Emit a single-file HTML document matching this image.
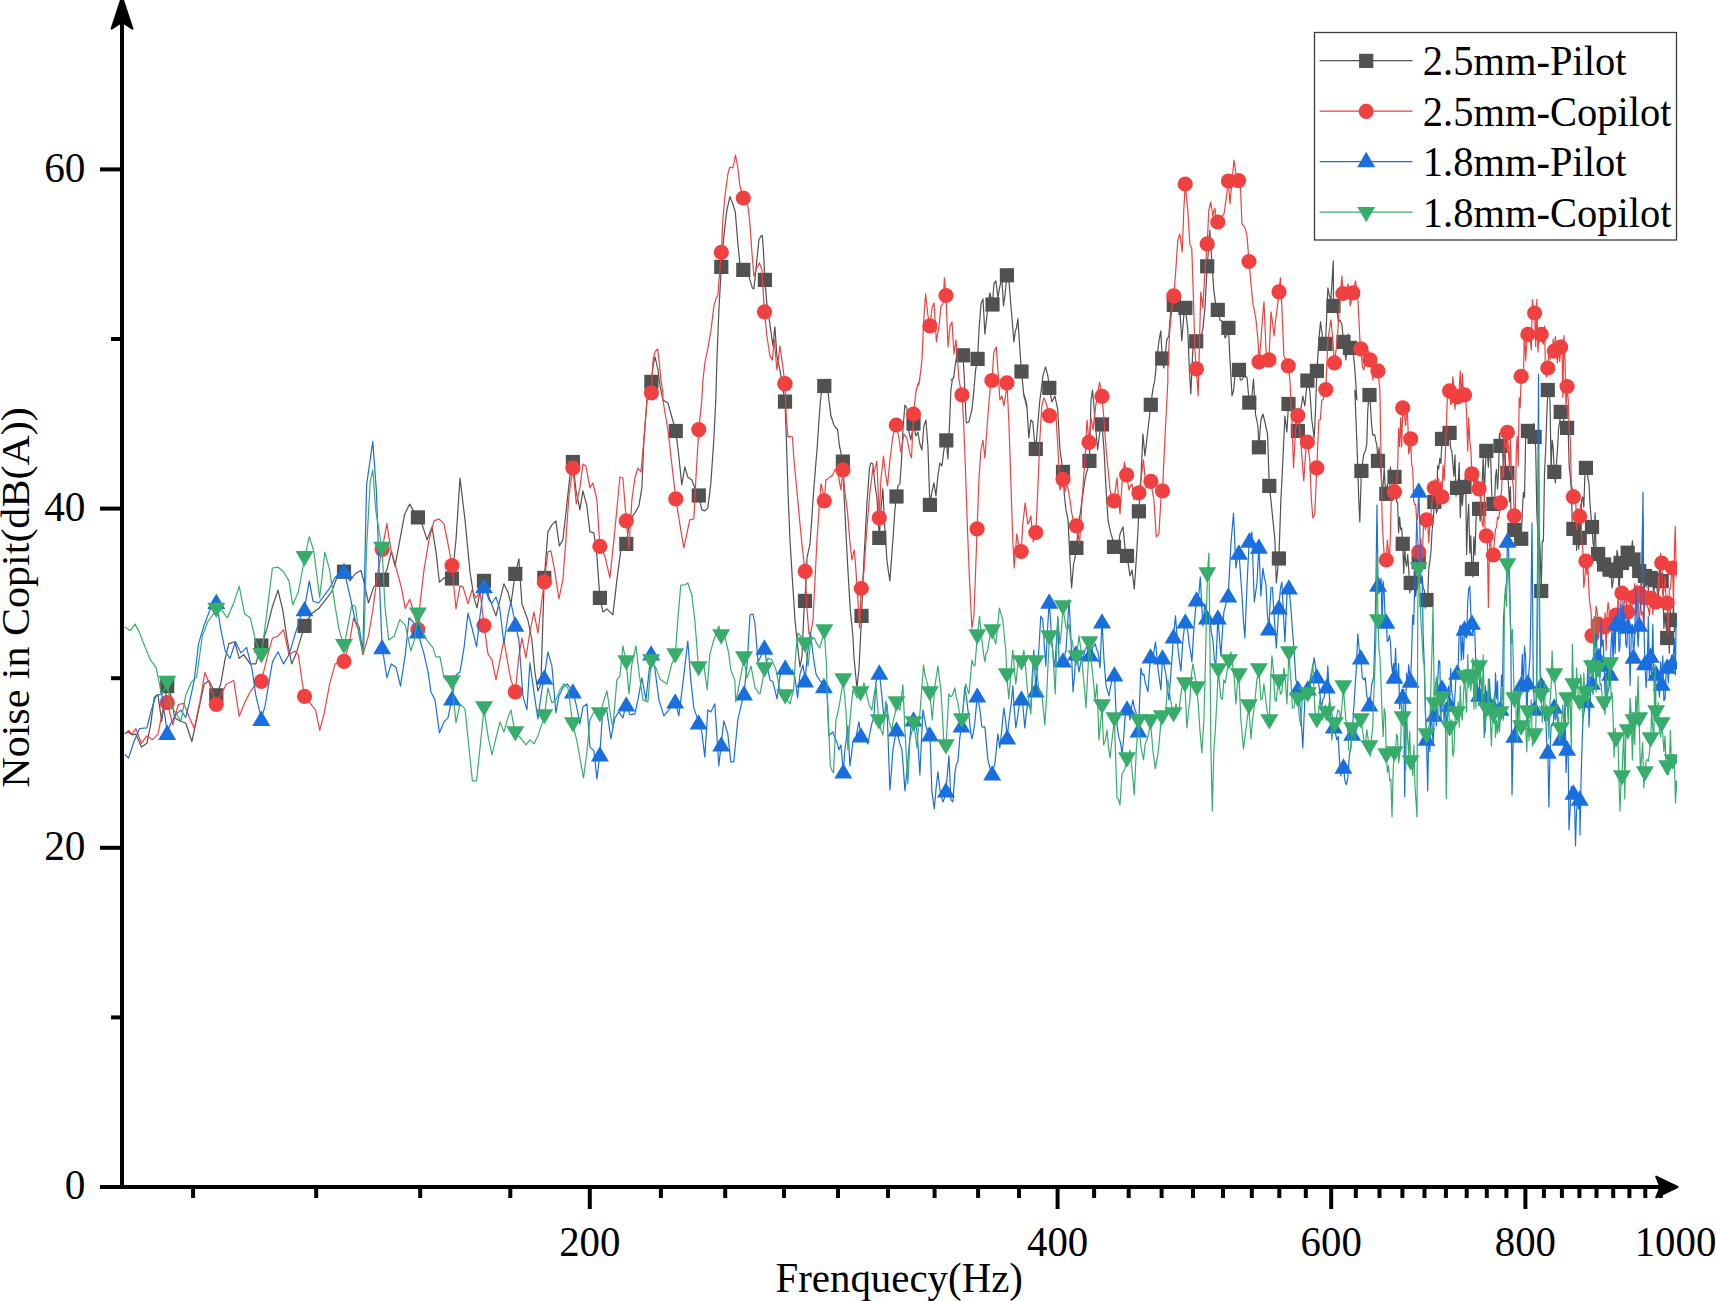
<!DOCTYPE html>
<html><head><meta charset="utf-8"><title>Noise in Cockpit</title>
<style>html,body{margin:0;padding:0;background:#fff}body{width:1716px;height:1301px;overflow:hidden}</style></head>
<body>
<svg width="1716" height="1301" viewBox="0 0 1716 1301" style="display:block;font-family:'Liberation Serif',serif">
<rect width="1716" height="1301" fill="#fff"/>
<defs><clipPath id="cp"><rect x="122" y="0" width="1555" height="1187"/></clipPath></defs>
<g clip-path="url(#cp)"><path d="M124.8 733.3 128.5 732.2 132.1 734.8 135.8 734.1 141.4 747.0 146.9 743.3 150.6 724.8 154.3 697.2 158.0 695.3 161.7 721.2 167.2 686.1 170.9 695.3 174.6 717.5 180.1 721.2 185.7 723.0 191.9 741.5 198.6 710.1 204.1 684.2 208.9 680.5 216.3 695.3 220.7 684.2 225.2 658.4 228.9 643.6 234.8 641.8 239.2 658.4 243.6 654.7 250.3 663.9 255.8 663.9 261.3 645.5 266.9 628.9 272.4 606.7 278.0 590.1 282.8 610.4 287.2 639.9 291.6 663.9 296.4 652.9 304.5 625.9 311.2 614.1 318.6 608.6 325.9 599.3 331.5 592.0 337.0 577.2 344.0 571.7 349.9 580.9 355.5 573.5 361.0 570.5 364.7 584.6 368.4 603.0 373.9 586.4 382.1 579.8 386.9 569.8 391.3 551.3 395.0 566.1 399.8 540.3 404.6 514.4 409.7 504.1 413.4 510.7 417.9 517.4 422.0 523.9 427.0 539.9 432.0 526.9 436.0 551.9 439.4 582.3 444.0 577.9 452.0 578.5 456.0 539.9 460.0 478.0 465.0 519.9 470.0 571.9 474.0 597.9 477.0 607.9 480.0 591.9 484.0 580.9 489.0 596.9 496.0 615.9 500.0 599.9 503.9 583.9 507.9 591.9 510.9 603.9 515.3 573.9 518.9 558.9 521.9 604.0 527.9 620.0 531.9 640.0 534.9 671.9 537.9 690.9 540.9 683.9 542.9 620.0 544.3 577.9 547.9 531.9 551.9 524.9 555.9 520.9 559.3 545.9 562.9 539.9 566.9 503.9 569.9 476.0 572.9 462.0 575.9 489.9 579.9 509.9 582.9 490.9 586.9 505.9 589.9 531.9 593.9 532.9 596.9 555.9 599.9 597.9 602.9 611.9 606.9 608.9 612.9 614.9 616.9 579.9 620.9 549.9 626.3 543.9 629.9 519.9 634.9 512.9 638.9 505.9 641.9 487.9 643.9 440.0 647.0 400.0 651.4 381.9 653.0 365.9 655.0 356.9 658.0 369.9 660.0 385.9 663.0 400.0 667.9 403.0 675.8 431.0 678.8 456.0 681.8 484.9 684.8 467.0 687.8 477.0 691.8 480.0 694.8 487.9 698.8 495.5 700.3 502.7 701.8 509.9 703.3 510.4 704.8 510.9 706.3 509.4 707.8 507.9 709.3 495.9 710.8 483.9 712.3 462.0 713.8 440.0 715.8 400.0 716.9 359.9 718.9 309.9 721.3 266.9 723.9 235.9 725.4 222.9 726.9 210.0 728.4 203.3 729.9 196.6 731.4 200.3 732.9 204.0 735.3 212.0 737.9 243.9 739.9 263.9 741.6 267.0 743.3 269.9 745.1 268.9 746.9 267.9 748.4 274.0 749.9 279.9 752.3 287.9 753.9 288.9 755.9 269.9 757.4 254.9 758.9 239.9 760.9 235.9 762.3 235.5 763.5 251.9 764.9 279.9 766.9 303.9 768.4 313.8 769.9 323.9 771.4 334.9 772.9 345.9 774.9 326.9 776.9 355.9 778.4 362.6 779.9 369.9 781.6 380.4 783.3 391.2 785.0 401.6 786.4 440.0 788.0 491.9 790.0 539.9 792.4 579.9 795.0 619.9 796.5 634.9 798.0 650.0 800.0 667.0 802.0 656.0 804.0 610.0 805.0 600.9 807.0 557.9 808.5 550.8 810.0 543.9 811.5 522.6 813.0 499.9 814.3 483.3 815.6 466.4 817.0 450.0 818.5 428.0 820.0 406.0 822.0 386.0 824.3 386.0 826.1 388.8 827.9 392.0 829.4 403.8 830.9 416.0 832.4 420.3 833.9 425.0 835.7 427.7 837.5 429.0 839.5 446.0 841.2 453.8 842.9 461.6 843.9 491.9 845.9 531.9 847.9 569.9 850.3 609.9 852.9 635.8 853.9 656.0 855.4 672.0 856.9 687.9 858.9 670.0 860.9 630.0 861.5 615.9 863.9 559.9 865.4 532.2 866.9 503.9 869.5 467.9 870.9 463.0 872.9 463.9 874.9 483.9 876.9 497.9 879.3 537.9 880.9 509.9 882.9 488.9 884.3 519.9 886.9 559.9 888.4 571.6 889.9 580.9 891.4 560.3 892.9 539.9 894.9 509.9 896.5 496.5 897.9 485.9 899.9 483.9 901.5 460.0 902.9 430.0 904.9 405.0 906.9 408.0 908.9 432.0 910.9 440.0 913.5 423.6 915.9 436.0 917.9 432.0 919.9 444.0 921.9 450.0 923.9 426.0 925.9 420.0 927.9 446.0 929.9 504.9 931.9 491.9 933.9 482.9 935.9 495.9 937.9 475.9 939.9 463.0 941.9 465.9 943.9 450.0 946.3 440.4 947.9 459.0 948.9 440.0 950.9 390.0 952.3 380.0 951.0 379.9 953.6 377.9 956.0 359.9 957.5 356.3 959.0 353.9 960.3 356.6 961.6 353.5 963.0 355.3 964.4 379.9 965.6 410.0 966.3 423.0 968.9 422.0 970.4 415.6 971.9 410.0 973.9 390.0 973.0 399.9 975.6 369.9 977.6 358.9 979.0 329.9 981.0 303.9 983.0 298.9 984.9 333.9 986.4 320.6 987.9 305.9 989.9 292.9 992.5 304.5 993.9 283.9 995.9 280.9 997.9 297.9 999.9 285.9 1001.9 279.9 1003.5 305.9 1005.2 293.1 1006.9 275.3 1008.9 279.9 1010.9 305.9 1012.4 322.8 1013.9 341.9 1015.3 331.4 1016.6 327.3 1017.9 318.9 1019.9 349.9 1021.5 371.5 1023.9 395.9 1025.4 401.2 1026.9 407.8 1023.8 394.0 1025.3 399.0 1026.8 405.0 1028.8 438.0 1030.8 420.0 1032.8 422.0 1034.2 438.0 1035.8 449.0 1037.8 424.0 1039.8 401.0 1039.9 399.9 1041.4 388.4 1042.9 375.9 1045.5 366.9 1047.9 375.9 1049.3 387.9 1051.9 401.8 1053.4 399.1 1054.9 395.9 1056.4 403.3 1057.9 410.0 1057.8 412.0 1060.0 449.9 1061.5 460.3 1063.0 471.9 1064.4 495.9 1066.0 509.9 1068.0 519.9 1070.0 559.9 1071.6 587.9 1073.6 563.9 1075.0 557.7 1076.4 547.9 1079.0 519.9 1080.5 512.1 1082.0 499.9 1083.5 490.0 1085.0 479.9 1086.4 472.9 1087.9 468.4 1089.4 460.9 1091.0 400.0 1092.6 390.0 1095.0 420.0 1097.6 449.9 1100.0 430.0 1102.0 424.4 1104.0 449.9 1106.0 487.9 1108.0 519.9 1109.5 527.7 1111.0 533.9 1112.5 538.7 1114.0 546.9 1115.5 548.6 1117.0 551.9 1118.5 544.6 1120.0 533.9 1121.5 530.2 1123.0 526.9 1125.0 547.9 1127.0 555.9 1128.5 565.3 1130.0 575.9 1132.0 569.9 1134.3 588.9 1136.9 549.9 1138.9 511.3 1140.9 479.9 1142.9 434.0 1144.9 455.9 1146.4 443.3 1147.9 430.0 1149.4 417.3 1150.8 404.8 1152.8 389.9 1154.8 379.9 1156.8 359.9 1158.8 341.9 1160.8 330.9 1162.2 358.5 1163.8 367.9 1165.3 353.9 1166.8 339.9 1168.8 335.9 1170.8 309.9 1172.3 303.7 1173.8 304.9 1175.3 309.8 1176.8 307.9 1178.3 309.3 1179.8 309.9 1181.8 340.9 1183.8 315.9 1185.4 307.9 1187.8 329.9 1189.4 369.9 1190.8 393.9 1192.8 349.9 1194.5 343.8 1196.2 341.3 1198.0 342.6 1199.8 339.9 1201.3 335.5 1202.8 329.9 1204.8 309.9 1207.2 266.3 1208.8 245.9 1209.8 230.0 1211.8 261.9 1213.8 289.9 1215.8 305.9 1217.8 309.9 1220.0 319.9 1221.5 320.9 1223.0 321.9 1225.0 337.9 1226.7 335.2 1228.4 327.9 1230.0 359.9 1232.0 395.8 1233.5 391.0 1235.0 375.9 1236.3 375.1 1237.6 375.5 1239.0 369.9 1240.4 379.9 1241.9 380.0 1243.6 376.6 1245.2 376.8 1246.9 377.0 1249.3 402.6 1251.9 396.0 1253.5 379.0 1255.5 414.0 1257.9 426.0 1258.9 447.3 1260.9 420.0 1262.9 414.0 1264.9 422.0 1267.5 434.0 1269.3 485.9 1270.9 499.9 1272.9 519.9 1274.9 539.9 1276.3 582.9 1278.9 558.5 1280.9 499.9 1282.9 459.9 1284.9 416.0 1286.9 432.0 1288.5 404.0 1290.9 408.0 1292.4 416.0 1293.9 420.0 1295.2 419.1 1296.5 426.6 1297.9 431.0 1299.4 423.9 1300.8 410.0 1302.8 396.0 1304.8 406.0 1307.4 380.6 1309.8 390.0 1311.8 420.0 1314.2 438.0 1315.6 407.3 1316.9 370.9 1318.9 339.9 1320.5 321.9 1322.9 339.9 1325.5 343.9 1327.9 287.9 1329.4 295.5 1330.9 299.9 1333.3 260.9 1333.5 305.9 1335.2 302.5 1336.9 309.9 1338.4 321.6 1339.9 319.9 1341.9 323.9 1343.5 341.9 1345.9 359.9 1348.3 333.9 1349.9 347.9 1351.4 350.5 1352.9 349.9 1354.9 369.9 1356.9 400.0 1354.8 390.0 1356.8 440.0 1358.8 499.9 1359.8 521.9 1361.4 470.9 1363.8 453.9 1365.3 451.3 1366.8 443.9 1367.7 412.0 1368.6 398.5 1369.5 395.0 1370.6 407.8 1371.6 424.9 1372.7 435.0 1373.7 434.6 1374.8 434.8 1375.8 441.1 1376.9 445.2 1378.0 460.9 1379.0 447.7 1380.0 464.9 1381.1 472.4 1382.1 492.8 1383.2 484.4 1384.2 468.3 1385.3 488.1 1386.3 493.9 1387.3 484.4 1388.4 492.3 1389.4 498.9 1390.4 466.9 1391.5 482.0 1392.5 485.7 1393.5 484.4 1394.5 476.9 1395.6 477.5 1396.6 502.0 1397.6 502.0 1398.6 532.7 1399.6 517.0 1400.7 529.8 1401.7 528.0 1402.7 543.8 1403.7 573.7 1404.7 549.0 1405.7 562.3 1406.7 566.3 1407.7 554.5 1408.7 568.3 1409.7 592.9 1410.7 582.9 1411.7 590.3 1412.7 579.9 1413.7 585.5 1414.7 562.7 1415.7 596.4 1416.7 584.3 1417.7 553.8 1418.7 562.0 1419.8 569.2 1420.9 582.4 1422.1 575.8 1423.2 588.9 1424.3 589.9 1425.4 608.2 1426.5 600.0 1427.7 597.1 1428.8 568.3 1429.9 561.2 1431.0 551.3 1432.1 530.0 1433.2 522.4 1434.3 501.9 1435.4 501.0 1436.5 513.2 1437.6 465.8 1438.7 469.0 1439.8 458.3 1440.9 463.5 1442.0 438.9 1443.1 431.2 1444.2 431.2 1445.3 445.4 1446.3 439.7 1447.4 426.9 1448.5 428.4 1449.6 432.9 1450.7 448.7 1451.7 450.3 1452.8 462.4 1453.9 476.2 1455.0 454.9 1456.0 496.1 1457.1 487.9 1458.2 483.0 1459.2 462.5 1460.3 517.7 1461.3 490.7 1462.4 505.1 1463.5 488.9 1464.5 486.9 1465.6 472.8 1466.6 554.5 1467.7 519.7 1468.7 504.2 1469.8 553.1 1470.8 535.8 1471.9 569.0 1472.9 576.9 1473.9 536.8 1475.0 555.1 1476.0 521.0 1477.1 501.9 1478.1 510.7 1479.1 508.9 1480.2 521.2 1481.2 491.2 1482.2 482.3 1483.2 457.6 1484.3 496.7 1485.3 467.6 1486.3 450.9 1487.3 451.3 1488.4 467.1 1489.4 450.2 1490.4 448.3 1491.4 482.7 1492.4 510.7 1493.4 503.9 1494.4 507.8 1495.5 476.9 1496.5 469.5 1497.5 488.9 1498.5 472.2 1499.5 433.3 1500.5 445.9 1501.5 442.2 1502.5 448.1 1503.5 471.5 1504.5 438.3 1505.5 463.9 1506.5 475.1 1507.4 472.9 1508.4 483.4 1509.4 502.0 1510.4 486.8 1511.4 529.8 1512.4 516.5 1513.4 523.6 1514.3 529.9 1515.3 527.8 1516.3 516.5 1517.3 541.2 1518.2 536.4 1519.2 540.7 1520.2 527.2 1521.2 538.8 1522.3 512.9 1523.4 492.4 1524.5 497.3 1525.7 435.7 1526.8 438.4 1527.9 430.9 1529.0 432.9 1530.2 431.0 1531.3 425.3 1532.4 429.7 1533.5 423.7 1534.6 436.9 1535.7 447.8 1536.8 511.5 1537.9 534.4 1539.0 530.9 1540.1 548.9 1541.2 591.0 1542.3 541.0 1543.4 541.1 1544.5 473.3 1545.6 451.8 1546.7 417.7 1547.8 390.0 1548.9 393.0 1550.0 401.0 1551.1 469.2 1552.1 440.2 1553.2 448.3 1554.3 471.9 1555.4 482.9 1556.4 464.3 1557.5 449.4 1558.6 428.7 1559.7 422.2 1560.7 411.9 1561.8 416.6 1562.9 409.5 1563.9 424.9 1565.0 428.4 1566.0 433.9 1567.1 427.9 1568.2 431.0 1569.2 466.9 1570.3 476.5 1571.3 489.9 1572.4 528.7 1573.4 528.9 1574.5 537.9 1575.5 517.8 1576.6 550.3 1577.6 511.4 1578.6 549.1 1579.7 537.9 1580.7 523.7 1581.7 499.3 1582.8 497.0 1583.8 506.9 1584.8 477.1 1585.9 467.9 1586.9 466.4 1587.9 478.1 1589.0 483.4 1590.0 504.0 1591.0 515.7 1592.0 527.0 1593.0 543.4 1594.1 547.4 1595.1 512.9 1596.1 551.6 1597.1 563.2 1598.1 554.0 1599.1 556.2 1600.1 554.7 1601.1 554.5 1602.1 550.2 1603.1 576.3 1604.1 564.5 1605.1 575.9 1606.1 566.2 1607.1 576.3 1608.1 558.2 1609.1 576.5 1610.1 569.6 1611.1 574.1 1612.1 588.0 1613.1 581.7 1614.1 555.9 1615.1 569.6 1616.0 571.0 1617.0 550.3 1618.0 556.5 1619.0 596.1 1620.0 571.1 1620.9 560.6 1621.9 563.0 1622.9 561.0 1623.9 565.5 1624.8 559.7 1625.8 549.5 1626.8 561.5 1627.7 552.7 1628.9 554.9 1630.1 562.1 1631.2 555.4 1632.4 540.9 1633.5 559.5 1634.7 561.3 1635.8 567.1 1637.0 568.7 1638.1 562.9 1639.2 571.0 1640.4 569.3 1641.5 595.4 1642.7 517.6 1643.8 600.8 1644.9 576.0 1646.1 587.0 1647.2 569.7 1648.3 590.8 1649.4 576.1 1650.6 578.0 1651.7 577.3 1652.8 585.1 1653.9 592.9 1655.0 581.9 1656.1 580.0 1657.2 590.4 1658.4 599.7 1659.5 565.2 1660.6 572.9 1661.7 581.0 1662.8 584.0 1663.9 628.5 1665.0 612.5 1666.1 625.9 1667.2 638.0 1668.3 614.8 1669.3 653.3 1670.4 610.1 1671.5 624.7 1672.6 620.0 1673.5 605.8 1674.4 631.6 1675.3 625.5 1676.2 618.0" fill="none" stroke="#515151" stroke-width="1.2" stroke-linejoin="round"/>
<rect x="160.1" y="679.0" width="14.2" height="14.2" fill="#515151"/>
<rect x="209.2" y="688.2" width="14.2" height="14.2" fill="#515151"/>
<rect x="254.2" y="638.4" width="14.2" height="14.2" fill="#515151"/>
<rect x="297.4" y="618.8" width="14.2" height="14.2" fill="#515151"/>
<rect x="336.9" y="564.6" width="14.2" height="14.2" fill="#515151"/>
<rect x="375.0" y="572.7" width="14.2" height="14.2" fill="#515151"/>
<rect x="410.8" y="510.3" width="14.2" height="14.2" fill="#515151"/>
<rect x="444.9" y="571.4" width="14.2" height="14.2" fill="#515151"/>
<rect x="476.9" y="573.8" width="14.2" height="14.2" fill="#515151"/>
<rect x="508.2" y="566.8" width="14.2" height="14.2" fill="#515151"/>
<rect x="537.2" y="570.8" width="14.2" height="14.2" fill="#515151"/>
<rect x="565.8" y="454.9" width="14.2" height="14.2" fill="#515151"/>
<rect x="592.8" y="590.8" width="14.2" height="14.2" fill="#515151"/>
<rect x="619.2" y="536.8" width="14.2" height="14.2" fill="#515151"/>
<rect x="644.3" y="374.8" width="14.2" height="14.2" fill="#515151"/>
<rect x="668.7" y="423.9" width="14.2" height="14.2" fill="#515151"/>
<rect x="691.7" y="488.4" width="14.2" height="14.2" fill="#515151"/>
<rect x="714.2" y="259.8" width="14.2" height="14.2" fill="#515151"/>
<rect x="736.2" y="262.8" width="14.2" height="14.2" fill="#515151"/>
<rect x="757.8" y="272.8" width="14.2" height="14.2" fill="#515151"/>
<rect x="777.9" y="394.5" width="14.2" height="14.2" fill="#515151"/>
<rect x="797.9" y="593.8" width="14.2" height="14.2" fill="#515151"/>
<rect x="817.2" y="378.9" width="14.2" height="14.2" fill="#515151"/>
<rect x="835.8" y="454.5" width="14.2" height="14.2" fill="#515151"/>
<rect x="854.4" y="608.8" width="14.2" height="14.2" fill="#515151"/>
<rect x="872.2" y="530.8" width="14.2" height="14.2" fill="#515151"/>
<rect x="889.4" y="489.4" width="14.2" height="14.2" fill="#515151"/>
<rect x="906.4" y="416.5" width="14.2" height="14.2" fill="#515151"/>
<rect x="922.8" y="497.8" width="14.2" height="14.2" fill="#515151"/>
<rect x="939.2" y="433.3" width="14.2" height="14.2" fill="#515151"/>
<rect x="955.9" y="348.2" width="14.2" height="14.2" fill="#515151"/>
<rect x="970.5" y="351.8" width="14.2" height="14.2" fill="#515151"/>
<rect x="985.4" y="297.4" width="14.2" height="14.2" fill="#515151"/>
<rect x="999.8" y="268.2" width="14.2" height="14.2" fill="#515151"/>
<rect x="1014.4" y="364.4" width="14.2" height="14.2" fill="#515151"/>
<rect x="1028.7" y="441.9" width="14.2" height="14.2" fill="#515151"/>
<rect x="1042.2" y="380.8" width="14.2" height="14.2" fill="#515151"/>
<rect x="1055.9" y="464.8" width="14.2" height="14.2" fill="#515151"/>
<rect x="1069.3" y="540.8" width="14.2" height="14.2" fill="#515151"/>
<rect x="1082.3" y="453.8" width="14.2" height="14.2" fill="#515151"/>
<rect x="1094.9" y="417.3" width="14.2" height="14.2" fill="#515151"/>
<rect x="1106.9" y="539.8" width="14.2" height="14.2" fill="#515151"/>
<rect x="1119.9" y="548.8" width="14.2" height="14.2" fill="#515151"/>
<rect x="1131.8" y="504.2" width="14.2" height="14.2" fill="#515151"/>
<rect x="1143.7" y="397.7" width="14.2" height="14.2" fill="#515151"/>
<rect x="1155.1" y="351.4" width="14.2" height="14.2" fill="#515151"/>
<rect x="1166.7" y="297.8" width="14.2" height="14.2" fill="#515151"/>
<rect x="1178.3" y="300.8" width="14.2" height="14.2" fill="#515151"/>
<rect x="1189.1" y="334.2" width="14.2" height="14.2" fill="#515151"/>
<rect x="1200.1" y="259.2" width="14.2" height="14.2" fill="#515151"/>
<rect x="1210.7" y="302.8" width="14.2" height="14.2" fill="#515151"/>
<rect x="1221.3" y="320.8" width="14.2" height="14.2" fill="#515151"/>
<rect x="1231.9" y="362.8" width="14.2" height="14.2" fill="#515151"/>
<rect x="1242.2" y="395.5" width="14.2" height="14.2" fill="#515151"/>
<rect x="1251.8" y="440.2" width="14.2" height="14.2" fill="#515151"/>
<rect x="1262.2" y="478.8" width="14.2" height="14.2" fill="#515151"/>
<rect x="1271.8" y="551.4" width="14.2" height="14.2" fill="#515151"/>
<rect x="1281.4" y="396.9" width="14.2" height="14.2" fill="#515151"/>
<rect x="1290.8" y="423.9" width="14.2" height="14.2" fill="#515151"/>
<rect x="1300.3" y="373.5" width="14.2" height="14.2" fill="#515151"/>
<rect x="1309.8" y="363.8" width="14.2" height="14.2" fill="#515151"/>
<rect x="1318.4" y="336.8" width="14.2" height="14.2" fill="#515151"/>
<rect x="1326.4" y="298.8" width="14.2" height="14.2" fill="#515151"/>
<rect x="1336.4" y="334.8" width="14.2" height="14.2" fill="#515151"/>
<rect x="1342.8" y="340.8" width="14.2" height="14.2" fill="#515151"/>
<rect x="1354.3" y="463.8" width="14.2" height="14.2" fill="#515151"/>
<rect x="1362.4" y="387.9" width="14.2" height="14.2" fill="#515151"/>
<rect x="1370.9" y="453.8" width="14.2" height="14.2" fill="#515151"/>
<rect x="1379.2" y="486.8" width="14.2" height="14.2" fill="#515151"/>
<rect x="1387.4" y="469.8" width="14.2" height="14.2" fill="#515151"/>
<rect x="1395.6" y="536.7" width="14.2" height="14.2" fill="#515151"/>
<rect x="1403.6" y="575.8" width="14.2" height="14.2" fill="#515151"/>
<rect x="1411.6" y="554.9" width="14.2" height="14.2" fill="#515151"/>
<rect x="1419.4" y="592.9" width="14.2" height="14.2" fill="#515151"/>
<rect x="1427.2" y="494.8" width="14.2" height="14.2" fill="#515151"/>
<rect x="1434.9" y="431.8" width="14.2" height="14.2" fill="#515151"/>
<rect x="1442.5" y="425.8" width="14.2" height="14.2" fill="#515151"/>
<rect x="1450.0" y="480.8" width="14.2" height="14.2" fill="#515151"/>
<rect x="1457.4" y="479.8" width="14.2" height="14.2" fill="#515151"/>
<rect x="1464.8" y="561.9" width="14.2" height="14.2" fill="#515151"/>
<rect x="1472.0" y="501.8" width="14.2" height="14.2" fill="#515151"/>
<rect x="1479.2" y="443.8" width="14.2" height="14.2" fill="#515151"/>
<rect x="1486.3" y="496.8" width="14.2" height="14.2" fill="#515151"/>
<rect x="1493.4" y="438.8" width="14.2" height="14.2" fill="#515151"/>
<rect x="1500.3" y="465.8" width="14.2" height="14.2" fill="#515151"/>
<rect x="1507.2" y="522.8" width="14.2" height="14.2" fill="#515151"/>
<rect x="1514.1" y="531.7" width="14.2" height="14.2" fill="#515151"/>
<rect x="1520.8" y="423.8" width="14.2" height="14.2" fill="#515151"/>
<rect x="1527.5" y="429.8" width="14.2" height="14.2" fill="#515151"/>
<rect x="1534.1" y="583.9" width="14.2" height="14.2" fill="#515151"/>
<rect x="1540.7" y="382.9" width="14.2" height="14.2" fill="#515151"/>
<rect x="1547.2" y="464.8" width="14.2" height="14.2" fill="#515151"/>
<rect x="1553.6" y="404.8" width="14.2" height="14.2" fill="#515151"/>
<rect x="1560.0" y="420.8" width="14.2" height="14.2" fill="#515151"/>
<rect x="1566.3" y="521.8" width="14.2" height="14.2" fill="#515151"/>
<rect x="1572.6" y="530.8" width="14.2" height="14.2" fill="#515151"/>
<rect x="1578.8" y="460.8" width="14.2" height="14.2" fill="#515151"/>
<rect x="1584.9" y="519.9" width="14.2" height="14.2" fill="#515151"/>
<rect x="1591.0" y="546.9" width="14.2" height="14.2" fill="#515151"/>
<rect x="1597.0" y="557.4" width="14.2" height="14.2" fill="#515151"/>
<rect x="1603.0" y="562.5" width="14.2" height="14.2" fill="#515151"/>
<rect x="1608.9" y="563.9" width="14.2" height="14.2" fill="#515151"/>
<rect x="1614.8" y="555.9" width="14.2" height="14.2" fill="#515151"/>
<rect x="1620.6" y="545.6" width="14.2" height="14.2" fill="#515151"/>
<rect x="1626.4" y="552.4" width="14.2" height="14.2" fill="#515151"/>
<rect x="1632.1" y="563.9" width="14.2" height="14.2" fill="#515151"/>
<rect x="1637.8" y="568.9" width="14.2" height="14.2" fill="#515151"/>
<rect x="1643.5" y="570.9" width="14.2" height="14.2" fill="#515151"/>
<rect x="1649.0" y="572.9" width="14.2" height="14.2" fill="#515151"/>
<rect x="1654.6" y="573.9" width="14.2" height="14.2" fill="#515151"/>
<rect x="1660.1" y="630.9" width="14.2" height="14.2" fill="#515151"/>
<rect x="1665.5" y="612.9" width="14.2" height="14.2" fill="#515151"/>
</g>
<g clip-path="url(#cp)"><path d="M124.8 734.1 128.5 730.4 132.1 734.1 135.8 728.5 141.4 743.3 146.9 735.9 152.5 739.6 158.0 734.1 163.5 706.4 167.2 702.7 172.8 724.8 178.3 704.5 183.8 703.4 189.4 717.5 194.2 728.5 200.4 699.0 204.9 672.4 209.7 684.2 216.3 704.5 220.7 695.3 226.3 684.2 233.7 680.5 239.2 716.4 244.7 702.7 250.3 691.6 255.8 684.2 261.3 681.3 266.9 658.4 272.4 638.1 278.0 636.2 283.5 629.6 289.0 654.7 294.6 651.0 298.3 654.7 302.0 680.5 304.5 696.4 311.2 704.5 315.6 710.1 319.7 730.4 324.1 713.8 329.6 684.2 335.2 663.9 344.0 661.4 349.2 643.6 353.6 617.8 358.1 628.9 362.9 654.7 368.4 636.2 372.8 610.4 377.6 573.5 382.1 549.5 386.9 523.7 390.5 547.7 396.1 568.0 401.6 588.3 405.3 608.6 409.7 599.3 414.5 614.1 417.9 629.6 420.0 603.9 424.0 569.9 429.0 539.9 434.0 520.9 439.0 518.9 444.0 523.9 448.0 543.9 452.0 565.5 454.0 587.9 456.0 608.9 460.0 585.9 463.0 586.9 468.0 603.9 472.0 589.9 476.0 597.9 480.0 591.9 482.0 607.9 484.0 625.5 488.0 653.9 492.0 659.9 496.0 679.9 500.0 659.9 503.9 640.0 507.9 663.9 510.9 679.9 515.3 691.9 518.9 655.9 521.9 638.0 525.9 657.9 529.9 632.0 533.9 612.0 537.9 633.0 541.9 600.0 544.3 581.9 547.9 551.9 550.9 550.9 554.9 571.9 558.9 598.9 562.9 579.9 565.9 539.9 568.9 495.9 572.9 468.0 576.3 503.9 579.9 487.9 582.9 464.0 585.9 466.0 589.9 487.9 592.9 483.0 596.9 499.9 599.9 546.3 604.9 555.9 609.9 577.9 614.9 529.9 619.9 477.0 622.9 478.0 626.3 520.9 628.9 548.9 631.9 499.9 634.9 478.0 637.9 468.0 640.9 472.0 643.9 440.0 647.0 400.0 651.4 392.8 653.0 359.9 655.0 351.9 657.6 348.9 659.0 359.9 661.0 379.9 663.0 393.8 662.9 400.0 667.9 430.0 675.8 498.9 679.8 523.9 683.8 547.9 689.8 519.9 693.8 518.9 695.8 480.0 698.8 429.6 700.3 414.8 701.8 400.0 703.0 379.9 705.0 361.9 706.5 354.9 708.0 347.9 709.5 338.9 711.0 329.9 712.5 317.9 713.9 305.9 715.9 298.9 717.9 294.9 719.9 269.9 721.3 252.3 722.9 220.0 724.9 196.0 726.4 185.1 727.9 174.0 729.9 167.0 731.4 167.5 732.9 168.0 735.5 155.0 737.9 168.0 739.9 186.0 741.6 191.8 743.3 198.0 744.9 200.7 746.4 203.2 747.9 206.0 749.9 223.9 751.9 251.9 753.9 275.9 755.4 272.1 756.9 267.9 759.5 262.9 761.9 269.9 763.5 295.9 764.5 311.9 766.9 335.9 768.4 345.8 769.9 355.9 772.3 359.9 774.3 339.9 776.9 369.9 778.4 358.3 779.9 345.9 781.9 359.9 783.4 371.6 784.9 383.5 785.0 384.0 786.4 420.0 788.0 437.0 789.4 436.7 790.9 436.6 792.4 437.0 794.0 460.0 795.5 475.8 797.0 491.9 798.5 508.1 800.0 523.9 801.5 539.3 803.0 553.9 805.2 571.3 807.0 609.9 809.0 633.8 811.0 631.8 813.0 619.9 815.0 579.9 817.0 539.9 819.0 509.9 821.0 483.9 823.0 491.9 824.3 500.9 825.9 479.9 827.4 479.1 828.9 477.9 830.4 476.6 831.9 475.9 833.4 473.2 834.9 469.9 836.4 470.8 837.9 472.9 839.4 481.7 840.9 489.9 842.9 469.9 844.9 491.9 847.5 511.9 849.9 541.9 851.9 559.9 854.3 549.9 855.9 569.9 857.9 599.9 859.5 627.9 861.3 588.5 863.9 571.9 865.4 549.5 866.9 527.9 868.4 510.8 869.9 491.9 871.4 480.5 872.9 467.9 874.3 471.9 876.9 461.0 879.3 517.9 880.9 479.9 883.5 456.0 885.5 473.9 887.5 485.9 889.9 460.0 891.4 448.2 892.9 436.0 894.6 429.7 896.3 425.0 898.9 438.0 900.9 452.0 902.4 443.4 903.9 434.0 905.4 436.2 906.9 438.0 908.4 445.5 909.9 454.0 911.5 458.0 913.5 414.0 915.9 392.0 917.9 384.0 919.9 380.0 916.0 389.9 917.5 386.3 919.0 383.9 920.5 372.9 922.0 359.9 923.6 321.9 925.6 293.9 928.0 315.9 930.0 325.9 932.0 307.9 934.0 302.9 936.4 341.9 939.0 325.9 941.0 305.9 943.0 303.9 944.4 277.9 946.0 295.5 948.0 346.9 950.0 325.9 952.0 321.9 954.0 353.9 956.0 339.9 957.5 359.5 959.0 379.9 960.5 387.8 962.0 394.9 963.5 420.0 965.5 469.9 967.5 529.9 969.5 579.9 971.9 627.9 973.9 615.9 975.5 573.9 977.1 528.9 978.9 479.9 980.9 450.0 982.9 440.0 984.9 458.0 986.9 430.0 988.4 409.2 989.9 392.0 989.9 389.9 991.9 380.5 993.9 351.9 996.3 346.9 997.9 369.9 999.9 399.9 1001.9 395.9 1003.9 405.8 1005.4 396.7 1006.9 382.9 1008.8 420.0 1010.8 479.9 1012.8 539.9 1014.2 567.9 1016.8 533.9 1018.8 545.9 1021.2 551.5 1022.8 523.9 1025.2 502.9 1027.8 523.9 1029.3 521.4 1030.8 515.9 1033.4 541.9 1035.8 532.5 1037.8 489.9 1039.8 440.0 1041.8 406.0 1043.9 397.9 1045.4 400.9 1046.9 405.8 1049.4 415.6 1051.1 412.3 1052.8 412.0 1054.3 411.1 1055.8 414.0 1057.8 446.0 1058.0 449.9 1060.0 489.9 1061.5 486.1 1063.0 479.3 1065.0 491.9 1066.5 485.7 1068.0 487.9 1070.0 499.9 1071.5 511.5 1073.0 519.9 1074.7 523.2 1076.4 525.9 1078.0 533.7 1079.6 543.9 1082.0 499.9 1083.5 479.0 1085.0 459.9 1087.0 420.0 1089.0 442.4 1091.0 418.0 1093.0 430.0 1094.5 416.3 1096.0 404.0 1097.8 392.6 1099.6 382.0 1102.0 396.4 1104.0 420.0 1105.5 441.6 1107.0 459.9 1108.5 473.4 1110.0 489.9 1111.3 495.7 1112.6 499.1 1114.0 500.9 1115.5 488.9 1117.0 477.9 1118.5 497.1 1120.0 513.9 1122.0 483.9 1124.4 461.9 1126.6 474.9 1129.0 489.9 1130.5 485.8 1132.0 483.9 1133.9 499.9 1136.3 487.9 1138.9 492.9 1140.9 479.9 1143.5 459.9 1145.9 487.9 1147.9 475.9 1149.4 478.7 1150.9 481.3 1152.4 491.7 1153.9 499.9 1156.3 536.9 1158.9 533.9 1160.9 499.9 1162.5 490.9 1163.9 459.9 1165.9 420.0 1167.9 380.0 1167.8 369.9 1169.8 329.9 1171.8 309.9 1173.8 295.9 1175.8 269.9 1177.8 239.9 1179.8 233.9 1182.2 251.9 1183.8 210.0 1185.2 184.0 1187.8 210.0 1189.8 243.9 1191.8 248.9 1193.8 309.9 1194.8 349.9 1196.4 368.9 1198.2 395.9 1199.8 329.9 1200.8 291.9 1202.8 307.9 1204.8 273.9 1207.2 243.9 1208.8 210.0 1210.8 202.0 1212.8 216.0 1214.8 208.0 1216.3 219.9 1217.8 222.0 1219.4 219.8 1221.0 218.0 1222.5 215.6 1224.0 214.0 1226.0 200.0 1228.4 181.0 1230.0 204.0 1231.6 186.0 1234.0 160.0 1236.0 174.0 1238.6 180.6 1240.6 190.0 1242.0 223.9 1243.5 226.0 1245.0 227.9 1247.0 235.9 1249.0 261.5 1251.0 283.9 1253.0 303.9 1254.5 311.4 1256.0 319.9 1258.0 339.9 1259.0 361.9 1261.0 339.9 1262.5 317.8 1264.0 301.9 1266.0 349.9 1267.5 360.3 1269.0 359.9 1271.0 311.9 1272.5 322.1 1274.0 335.9 1275.5 321.2 1277.0 309.9 1279.0 291.9 1280.4 277.9 1282.0 309.9 1283.9 355.9 1285.9 359.9 1288.3 365.9 1289.9 380.0 1291.9 420.0 1293.5 467.9 1295.5 430.0 1297.9 415.6 1299.4 425.6 1300.8 440.0 1302.3 462.6 1303.8 480.9 1305.8 449.9 1307.4 442.0 1309.8 459.9 1311.3 498.3 1312.8 517.9 1314.8 513.9 1316.8 467.9 1318.8 420.0 1320.3 419.8 1321.8 400.0 1323.2 399.7 1324.5 394.2 1325.8 389.6 1327.9 339.9 1329.4 329.8 1330.9 319.9 1332.7 338.0 1334.5 362.9 1336.2 348.9 1337.9 329.9 1339.9 299.9 1341.9 275.9 1342.9 293.5 1344.4 294.4 1345.9 295.9 1347.9 283.9 1350.3 305.9 1352.9 292.9 1355.5 280.9 1357.9 299.9 1359.9 339.9 1360.9 348.9 1362.4 366.7 1363.9 369.9 1365.4 358.9 1366.9 349.9 1368.4 351.3 1369.9 359.9 1371.4 363.3 1372.9 379.9 1374.4 366.4 1375.9 365.9 1377.9 370.9 1379.9 389.9 1381.0 454.8 1382.0 514.7 1383.1 537.9 1384.2 555.5 1385.2 559.6 1386.3 560.0 1387.3 540.0 1388.4 550.9 1389.4 559.8 1390.4 535.8 1391.5 487.6 1392.5 483.4 1393.5 490.8 1394.5 491.9 1395.6 491.8 1396.6 484.5 1397.6 469.4 1398.6 428.2 1399.6 446.6 1400.7 417.5 1401.7 447.1 1402.7 407.9 1403.7 414.3 1404.7 417.9 1405.7 425.5 1406.7 410.4 1407.7 418.2 1408.7 453.9 1409.7 449.9 1410.7 438.9 1411.7 464.9 1412.7 468.5 1413.7 500.7 1414.7 504.6 1415.7 504.5 1416.7 521.1 1417.7 539.1 1418.7 552.0 1419.8 567.8 1420.9 538.5 1422.1 564.5 1423.2 531.7 1424.3 518.2 1425.4 529.7 1426.5 519.9 1427.7 524.1 1428.8 542.6 1429.9 521.7 1431.0 513.4 1432.1 501.3 1433.2 484.4 1434.3 487.9 1435.4 479.3 1436.5 495.0 1437.6 510.9 1438.7 478.3 1439.8 504.3 1440.9 481.3 1442.0 496.9 1443.1 465.2 1444.2 480.0 1445.3 455.0 1446.3 429.6 1447.4 395.5 1448.5 398.1 1449.6 390.9 1450.7 404.7 1451.7 401.4 1452.8 376.9 1453.9 387.7 1455.0 409.3 1456.0 396.3 1457.1 396.9 1458.2 401.8 1459.2 389.1 1460.3 370.8 1461.3 401.0 1462.4 373.5 1463.5 397.4 1464.5 394.9 1465.6 396.7 1466.6 414.3 1467.7 451.3 1468.7 417.9 1469.8 442.2 1470.8 448.8 1471.9 473.9 1472.9 470.4 1473.9 488.2 1475.0 467.8 1476.0 493.2 1477.1 474.1 1478.1 482.1 1479.1 488.9 1480.2 497.4 1481.2 513.4 1482.2 522.6 1483.2 527.0 1484.3 495.7 1485.3 537.2 1486.3 535.9 1487.3 539.1 1488.4 607.4 1489.4 548.6 1490.4 534.9 1491.4 552.8 1492.4 548.0 1493.4 555.0 1494.4 541.0 1495.5 529.2 1496.5 527.2 1497.5 517.2 1498.5 519.0 1499.5 512.4 1500.5 502.9 1501.5 491.4 1502.5 466.5 1503.5 476.5 1504.5 433.4 1505.5 446.7 1506.5 447.8 1507.4 432.3 1508.4 447.5 1509.4 470.9 1510.4 437.5 1511.4 473.6 1512.4 478.1 1513.4 488.6 1514.3 515.9 1515.3 520.4 1516.3 449.2 1517.3 436.1 1518.2 466.0 1519.2 397.8 1520.2 407.5 1521.2 376.3 1522.3 374.2 1523.4 377.3 1524.5 328.6 1525.7 360.8 1526.8 341.7 1527.9 334.4 1529.0 341.4 1530.2 340.3 1531.3 350.0 1532.4 299.6 1533.5 312.7 1534.6 313.0 1535.7 346.4 1536.8 299.3 1537.9 352.0 1539.0 338.4 1540.1 333.8 1541.2 334.4 1542.3 341.1 1543.4 344.2 1544.5 326.1 1545.6 372.9 1546.7 376.8 1547.8 368.0 1548.9 350.1 1550.0 359.6 1551.1 350.7 1552.1 358.1 1553.2 339.2 1554.3 351.0 1555.4 336.4 1556.4 354.2 1557.5 363.0 1558.6 344.6 1559.7 361.5 1560.7 347.0 1561.8 339.6 1562.9 397.4 1563.9 335.6 1565.0 359.5 1566.0 407.1 1567.1 386.5 1568.2 399.0 1569.2 430.5 1570.3 439.3 1571.3 483.6 1572.4 489.1 1573.4 496.9 1574.5 490.3 1575.5 490.0 1576.6 529.7 1577.6 508.8 1578.6 510.1 1579.7 516.3 1580.7 504.2 1581.7 538.8 1582.8 548.7 1583.8 587.4 1584.8 579.3 1585.9 561.0 1586.9 574.3 1587.9 566.3 1589.0 592.6 1590.0 604.5 1591.0 610.6 1592.0 635.6 1593.0 626.4 1594.1 635.5 1595.1 624.5 1596.1 606.1 1597.1 611.1 1598.1 624.0 1599.1 626.4 1600.1 617.0 1601.1 647.3 1602.1 622.8 1603.1 631.9 1604.1 627.0 1605.1 612.8 1606.1 650.7 1607.1 613.6 1608.1 602.3 1609.1 611.2 1610.1 624.0 1611.1 628.0 1612.1 617.0 1613.1 624.7 1614.1 635.1 1615.1 623.9 1616.0 615.0 1617.0 616.7 1618.0 599.0 1619.0 606.4 1620.0 620.0 1620.9 600.5 1621.9 593.0 1622.9 595.6 1623.9 590.7 1624.8 604.1 1625.8 589.3 1626.8 606.9 1627.7 612.0 1628.9 630.1 1630.1 602.4 1631.2 608.9 1632.4 603.5 1633.5 597.0 1634.7 583.5 1635.8 594.3 1637.0 585.0 1638.1 619.1 1639.2 593.0 1640.4 597.8 1641.5 615.0 1642.7 611.7 1643.8 627.5 1644.9 598.0 1646.1 590.9 1647.2 606.2 1648.3 608.4 1649.4 615.6 1650.6 598.0 1651.7 593.4 1652.8 614.5 1653.9 595.1 1655.0 591.6 1656.1 602.0 1657.2 605.0 1658.4 575.5 1659.5 590.0 1660.6 553.3 1661.7 563.0 1662.8 594.8 1663.9 590.5 1665.0 576.7 1666.1 600.3 1667.2 603.0 1668.3 633.1 1669.3 589.2 1670.4 589.0 1671.5 573.9 1672.6 568.0 1673.5 604.6 1674.4 550.7 1675.3 526.3 1676.2 577.0" fill="none" stroke="#F14040" stroke-width="1.2" stroke-linejoin="round"/>
<circle cx="167.2" cy="702.7" r="7.6" fill="#F14040"/>
<circle cx="216.3" cy="704.5" r="7.6" fill="#F14040"/>
<circle cx="261.3" cy="681.3" r="7.6" fill="#F14040"/>
<circle cx="304.5" cy="696.4" r="7.6" fill="#F14040"/>
<circle cx="344.0" cy="661.4" r="7.6" fill="#F14040"/>
<circle cx="382.1" cy="549.5" r="7.6" fill="#F14040"/>
<circle cx="417.9" cy="629.6" r="7.6" fill="#F14040"/>
<circle cx="452.0" cy="565.5" r="7.6" fill="#F14040"/>
<circle cx="484.0" cy="625.5" r="7.6" fill="#F14040"/>
<circle cx="515.3" cy="691.9" r="7.6" fill="#F14040"/>
<circle cx="544.3" cy="581.9" r="7.6" fill="#F14040"/>
<circle cx="572.9" cy="468.0" r="7.6" fill="#F14040"/>
<circle cx="599.9" cy="546.3" r="7.6" fill="#F14040"/>
<circle cx="626.3" cy="520.9" r="7.6" fill="#F14040"/>
<circle cx="651.4" cy="392.8" r="7.6" fill="#F14040"/>
<circle cx="675.8" cy="498.9" r="7.6" fill="#F14040"/>
<circle cx="698.8" cy="429.6" r="7.6" fill="#F14040"/>
<circle cx="721.3" cy="252.3" r="7.6" fill="#F14040"/>
<circle cx="743.3" cy="198.0" r="7.6" fill="#F14040"/>
<circle cx="764.5" cy="311.9" r="7.6" fill="#F14040"/>
<circle cx="784.9" cy="383.5" r="7.6" fill="#F14040"/>
<circle cx="785.0" cy="384.0" r="7.6" fill="#F14040"/>
<circle cx="805.2" cy="571.3" r="7.6" fill="#F14040"/>
<circle cx="824.3" cy="500.9" r="7.6" fill="#F14040"/>
<circle cx="842.9" cy="469.9" r="7.6" fill="#F14040"/>
<circle cx="861.3" cy="588.5" r="7.6" fill="#F14040"/>
<circle cx="879.3" cy="517.9" r="7.6" fill="#F14040"/>
<circle cx="896.3" cy="425.0" r="7.6" fill="#F14040"/>
<circle cx="913.5" cy="414.0" r="7.6" fill="#F14040"/>
<circle cx="930.0" cy="325.9" r="7.6" fill="#F14040"/>
<circle cx="946.0" cy="295.5" r="7.6" fill="#F14040"/>
<circle cx="962.0" cy="394.9" r="7.6" fill="#F14040"/>
<circle cx="977.1" cy="528.9" r="7.6" fill="#F14040"/>
<circle cx="991.9" cy="380.5" r="7.6" fill="#F14040"/>
<circle cx="1006.9" cy="382.9" r="7.6" fill="#F14040"/>
<circle cx="1021.2" cy="551.5" r="7.6" fill="#F14040"/>
<circle cx="1035.8" cy="532.5" r="7.6" fill="#F14040"/>
<circle cx="1049.4" cy="415.6" r="7.6" fill="#F14040"/>
<circle cx="1063.0" cy="479.3" r="7.6" fill="#F14040"/>
<circle cx="1076.4" cy="525.9" r="7.6" fill="#F14040"/>
<circle cx="1089.0" cy="442.4" r="7.6" fill="#F14040"/>
<circle cx="1102.0" cy="396.4" r="7.6" fill="#F14040"/>
<circle cx="1114.0" cy="500.9" r="7.6" fill="#F14040"/>
<circle cx="1126.6" cy="474.9" r="7.6" fill="#F14040"/>
<circle cx="1138.9" cy="492.9" r="7.6" fill="#F14040"/>
<circle cx="1150.9" cy="481.3" r="7.6" fill="#F14040"/>
<circle cx="1162.5" cy="490.9" r="7.6" fill="#F14040"/>
<circle cx="1173.8" cy="295.9" r="7.6" fill="#F14040"/>
<circle cx="1185.2" cy="184.0" r="7.6" fill="#F14040"/>
<circle cx="1196.4" cy="368.9" r="7.6" fill="#F14040"/>
<circle cx="1207.2" cy="243.9" r="7.6" fill="#F14040"/>
<circle cx="1217.8" cy="222.0" r="7.6" fill="#F14040"/>
<circle cx="1228.4" cy="181.0" r="7.6" fill="#F14040"/>
<circle cx="1238.6" cy="180.6" r="7.6" fill="#F14040"/>
<circle cx="1249.0" cy="261.5" r="7.6" fill="#F14040"/>
<circle cx="1259.0" cy="361.9" r="7.6" fill="#F14040"/>
<circle cx="1269.0" cy="359.9" r="7.6" fill="#F14040"/>
<circle cx="1279.0" cy="291.9" r="7.6" fill="#F14040"/>
<circle cx="1288.3" cy="365.9" r="7.6" fill="#F14040"/>
<circle cx="1297.9" cy="415.6" r="7.6" fill="#F14040"/>
<circle cx="1307.4" cy="442.0" r="7.6" fill="#F14040"/>
<circle cx="1316.8" cy="467.9" r="7.6" fill="#F14040"/>
<circle cx="1325.8" cy="389.6" r="7.6" fill="#F14040"/>
<circle cx="1334.5" cy="362.9" r="7.6" fill="#F14040"/>
<circle cx="1342.9" cy="293.5" r="7.6" fill="#F14040"/>
<circle cx="1352.9" cy="292.9" r="7.6" fill="#F14040"/>
<circle cx="1360.9" cy="348.9" r="7.6" fill="#F14040"/>
<circle cx="1369.9" cy="359.9" r="7.6" fill="#F14040"/>
<circle cx="1377.9" cy="370.9" r="7.6" fill="#F14040"/>
<circle cx="1386.3" cy="560.0" r="7.6" fill="#F14040"/>
<circle cx="1394.5" cy="491.9" r="7.6" fill="#F14040"/>
<circle cx="1402.7" cy="407.9" r="7.6" fill="#F14040"/>
<circle cx="1410.7" cy="438.9" r="7.6" fill="#F14040"/>
<circle cx="1418.7" cy="552.0" r="7.6" fill="#F14040"/>
<circle cx="1426.5" cy="519.9" r="7.6" fill="#F14040"/>
<circle cx="1434.3" cy="487.9" r="7.6" fill="#F14040"/>
<circle cx="1442.0" cy="496.9" r="7.6" fill="#F14040"/>
<circle cx="1449.6" cy="390.9" r="7.6" fill="#F14040"/>
<circle cx="1457.1" cy="396.9" r="7.6" fill="#F14040"/>
<circle cx="1464.5" cy="394.9" r="7.6" fill="#F14040"/>
<circle cx="1471.9" cy="473.9" r="7.6" fill="#F14040"/>
<circle cx="1479.1" cy="488.9" r="7.6" fill="#F14040"/>
<circle cx="1486.3" cy="535.9" r="7.6" fill="#F14040"/>
<circle cx="1493.4" cy="555.0" r="7.6" fill="#F14040"/>
<circle cx="1500.5" cy="502.9" r="7.6" fill="#F14040"/>
<circle cx="1507.4" cy="432.3" r="7.6" fill="#F14040"/>
<circle cx="1514.3" cy="515.9" r="7.6" fill="#F14040"/>
<circle cx="1521.2" cy="376.3" r="7.6" fill="#F14040"/>
<circle cx="1527.9" cy="334.4" r="7.6" fill="#F14040"/>
<circle cx="1534.6" cy="313.0" r="7.6" fill="#F14040"/>
<circle cx="1541.2" cy="334.4" r="7.6" fill="#F14040"/>
<circle cx="1547.8" cy="368.0" r="7.6" fill="#F14040"/>
<circle cx="1554.3" cy="351.0" r="7.6" fill="#F14040"/>
<circle cx="1560.7" cy="347.0" r="7.6" fill="#F14040"/>
<circle cx="1567.1" cy="386.5" r="7.6" fill="#F14040"/>
<circle cx="1573.4" cy="496.9" r="7.6" fill="#F14040"/>
<circle cx="1579.7" cy="516.3" r="7.6" fill="#F14040"/>
<circle cx="1585.9" cy="561.0" r="7.6" fill="#F14040"/>
<circle cx="1592.0" cy="635.6" r="7.6" fill="#F14040"/>
<circle cx="1598.1" cy="624.0" r="7.6" fill="#F14040"/>
<circle cx="1604.1" cy="627.0" r="7.6" fill="#F14040"/>
<circle cx="1610.1" cy="624.0" r="7.6" fill="#F14040"/>
<circle cx="1616.0" cy="615.0" r="7.6" fill="#F14040"/>
<circle cx="1621.9" cy="593.0" r="7.6" fill="#F14040"/>
<circle cx="1627.7" cy="612.0" r="7.6" fill="#F14040"/>
<circle cx="1633.5" cy="597.0" r="7.6" fill="#F14040"/>
<circle cx="1639.2" cy="593.0" r="7.6" fill="#F14040"/>
<circle cx="1644.9" cy="598.0" r="7.6" fill="#F14040"/>
<circle cx="1650.6" cy="598.0" r="7.6" fill="#F14040"/>
<circle cx="1656.1" cy="602.0" r="7.6" fill="#F14040"/>
<circle cx="1661.7" cy="563.0" r="7.6" fill="#F14040"/>
<circle cx="1667.2" cy="603.0" r="7.6" fill="#F14040"/>
<circle cx="1672.6" cy="568.0" r="7.6" fill="#F14040"/>
</g>
<g clip-path="url(#cp)"><path d="M124.8 754.4 128.5 758.1 134.0 741.5 139.5 728.5 146.9 727.8 151.3 710.1 156.1 695.3 161.7 694.2 164.6 713.8 167.2 732.2 170.9 723.0 176.4 713.8 180.9 710.1 185.7 717.5 189.4 702.7 194.2 680.5 198.6 643.6 204.1 625.2 209.7 610.4 216.3 601.2 220.7 628.9 225.2 651.0 230.0 658.4 235.5 641.8 241.0 652.9 246.6 647.3 252.1 669.5 255.8 695.3 261.3 718.2 265.0 706.4 268.7 684.2 272.4 662.1 278.0 651.8 283.5 663.9 289.0 654.7 294.6 636.2 300.1 617.8 304.5 608.6 309.3 580.9 313.0 601.2 318.6 603.0 324.1 595.6 329.6 588.3 335.2 577.2 344.0 570.5 349.9 595.6 355.5 621.5 359.2 627.0 362.9 651.0 366.6 484.9 372.8 441.3 376.5 492.3 379.5 584.6 382.1 646.6 386.9 677.6 391.3 663.9 396.1 667.6 400.5 686.1 405.3 654.7 409.0 617.8 412.7 621.5 417.9 630.7 420.0 640.0 424.0 653.9 428.0 671.9 431.0 691.9 435.0 699.9 439.4 732.9 444.0 721.9 448.0 717.9 452.0 697.9 456.0 674.9 460.0 671.9 464.0 647.9 468.0 613.0 472.0 628.0 476.6 646.9 480.0 616.0 484.0 585.6 489.0 600.0 492.0 603.0 496.0 597.0 500.0 610.0 503.9 643.9 507.9 616.0 510.9 602.0 515.3 624.0 518.9 640.0 522.9 695.9 526.9 709.9 529.9 662.9 533.9 691.9 537.9 718.9 541.9 689.9 544.3 676.9 547.9 651.9 551.9 665.9 555.9 712.9 558.9 695.9 562.9 687.9 566.9 683.9 572.9 690.9 576.9 707.9 579.9 723.9 582.9 706.9 586.9 703.9 589.9 746.9 593.9 750.9 596.9 778.9 599.9 753.9 602.9 707.9 606.9 710.9 610.9 738.9 614.9 717.9 618.9 711.9 622.9 717.9 626.3 703.9 629.9 714.9 634.9 713.9 637.9 699.9 641.9 677.9 645.9 699.9 651.1 652.9 654.9 668.9 658.9 699.9 663.9 715.9 668.9 709.9 675.2 700.9 678.8 715.9 682.8 683.9 687.8 641.0 690.8 679.9 693.8 707.9 698.6 721.9 700.2 726.9 701.8 731.9 703.3 744.4 704.8 756.9 706.3 733.4 707.8 709.9 709.3 710.9 710.8 711.9 712.2 709.2 713.5 706.6 714.8 703.9 716.2 724.6 717.5 745.2 718.8 765.9 721.2 743.9 723.8 720.9 725.2 725.3 726.5 729.6 727.8 733.9 729.3 747.9 730.8 761.9 732.3 761.9 733.8 761.9 735.1 747.7 736.5 734.0 737.8 719.9 739.4 713.2 740.9 706.5 742.5 699.4 744.0 692.9 745.5 679.1 747.0 666.0 748.5 640.3 750.0 615.0 751.5 614.4 753.0 614.0 755.0 624.0 756.5 643.0 758.0 662.0 760.0 658.0 761.5 654.3 762.9 650.8 764.4 647.0 767.0 666.0 768.5 672.7 770.0 679.9 771.5 681.0 773.0 681.9 774.3 687.7 775.6 693.0 777.0 698.9 778.5 688.1 780.0 675.9 781.7 673.2 783.4 670.4 785.2 667.0 787.1 670.2 789.0 673.9 790.7 671.6 792.4 670.0 795.0 677.9 797.6 697.9 800.0 673.9 801.5 669.3 803.0 665.0 805.0 679.9 806.5 664.9 808.0 650.0 810.4 632.0 813.0 654.0 814.5 664.3 816.0 673.9 817.3 676.4 818.6 678.3 820.0 680.9 821.3 681.8 822.6 683.7 823.9 685.5 825.4 688.6 826.9 689.9 828.9 735.9 830.3 734.0 831.6 733.4 832.9 731.9 834.4 736.2 835.9 739.9 837.4 743.7 838.9 749.9 840.9 744.9 843.3 770.9 844.9 749.9 846.4 738.0 847.9 725.9 849.9 765.9 851.4 755.1 852.9 741.9 854.4 738.1 855.9 737.9 857.4 729.6 858.9 721.9 860.9 734.9 862.3 735.5 863.6 735.4 864.9 736.9 866.4 740.9 867.9 743.9 869.4 735.8 870.9 727.9 872.4 721.4 873.9 717.9 875.9 681.9 877.6 677.8 879.3 672.0 881.9 695.9 883.9 717.9 885.4 711.7 886.9 703.9 888.4 748.0 889.9 789.9 891.4 771.6 892.9 749.9 894.7 739.9 896.5 728.9 898.9 739.9 900.4 745.1 901.9 749.9 903.4 768.7 904.9 790.9 906.4 776.2 907.9 759.9 909.4 743.1 910.9 727.9 913.5 718.9 915.2 723.8 916.9 729.9 918.4 750.6 919.9 774.9 921.4 741.0 922.9 709.9 924.4 717.1 925.9 725.9 927.2 730.5 928.6 728.2 929.9 733.9 931.9 791.9 934.3 808.9 936.1 788.1 937.9 771.9 939.9 789.9 941.4 796.3 942.9 801.9 944.4 798.3 945.9 789.9 947.4 773.9 948.9 755.9 950.9 799.9 952.9 801.9 954.9 772.9 956.4 764.1 957.9 761.9 959.7 738.9 961.5 724.9 963.2 706.6 964.9 686.9 966.4 697.1 967.9 709.9 969.2 717.5 970.5 731.1 971.9 738.9 973.4 732.5 974.9 721.9 977.3 694.9 979.9 709.9 981.9 726.9 983.4 727.2 984.9 726.9 986.4 743.9 987.9 759.9 989.3 765.1 990.8 771.9 992.2 772.9 994.8 763.9 996.3 750.2 997.8 733.9 999.8 747.9 1001.2 735.7 1002.5 722.4 1003.8 707.9 1005.5 719.0 1007.2 736.9 1009.8 713.9 1011.3 702.8 1012.8 685.9 1014.3 709.1 1015.8 727.9 1017.3 719.1 1018.8 707.9 1021.4 697.9 1023.1 708.2 1024.8 727.9 1026.3 713.4 1027.8 701.9 1029.3 707.0 1030.8 707.9 1032.3 674.5 1033.8 650.0 1035.8 689.9 1037.3 669.5 1038.8 650.0 1040.8 616.0 1042.8 620.0 1044.3 645.6 1045.8 666.0 1047.5 630.1 1049.2 601.0 1051.8 640.0 1053.3 657.2 1054.8 666.0 1056.3 643.5 1057.8 618.0 1059.0 659.9 1060.3 659.5 1061.7 660.8 1063.0 659.9 1064.5 656.7 1066.0 649.9 1067.5 625.3 1069.0 599.9 1071.0 639.9 1073.0 691.9 1074.5 675.7 1076.0 652.9 1077.5 660.5 1079.0 671.9 1080.5 663.7 1082.0 657.9 1083.3 657.7 1084.6 651.3 1086.0 647.9 1087.3 647.3 1088.6 654.8 1090.0 653.9 1091.3 655.7 1092.6 647.2 1094.0 645.9 1095.3 643.7 1096.6 649.5 1098.0 651.9 1100.0 667.9 1102.0 620.9 1104.0 659.9 1106.0 685.9 1107.5 690.4 1109.0 695.9 1110.5 686.9 1112.0 679.9 1114.4 673.9 1116.0 711.9 1117.5 729.5 1119.0 737.9 1120.5 742.4 1122.0 753.8 1123.5 740.1 1125.0 717.9 1127.0 707.9 1128.5 709.5 1130.0 719.9 1131.5 707.2 1133.0 699.9 1134.4 708.1 1135.9 711.9 1138.5 729.9 1140.9 667.9 1142.4 674.9 1143.9 673.9 1145.3 683.0 1146.6 687.1 1147.9 691.9 1150.5 655.9 1152.9 657.9 1155.5 641.9 1157.9 667.9 1159.4 679.4 1160.9 689.9 1162.5 656.9 1164.2 666.0 1165.9 673.9 1167.4 689.1 1168.9 699.9 1170.4 679.2 1171.9 659.9 1173.5 635.9 1175.5 615.9 1177.9 647.9 1179.4 660.5 1180.9 670.9 1182.9 639.9 1185.3 620.9 1187.9 631.9 1189.2 644.2 1190.6 651.9 1191.9 661.9 1193.9 627.9 1196.5 598.9 1198.9 593.9 1200.3 577.0 1202.9 625.9 1204.9 603.9 1206.9 616.9 1208.4 621.7 1209.9 619.9 1211.4 632.4 1212.9 639.9 1214.4 660.6 1215.9 663.9 1217.9 616.9 1219.4 637.8 1220.9 655.9 1222.4 632.0 1223.9 611.9 1225.9 603.9 1228.3 594.9 1230.9 544.0 1233.5 513.0 1235.9 568.0 1237.4 558.3 1238.9 552.0 1240.4 572.9 1241.9 593.9 1243.4 620.2 1244.9 637.9 1246.4 600.4 1247.9 566.0 1249.3 540.0 1251.9 532.0 1254.3 601.9 1256.9 583.9 1258.9 546.0 1260.9 595.9 1262.9 568.0 1264.4 577.8 1265.9 583.9 1267.4 615.0 1268.9 627.9 1270.9 587.9 1272.4 587.2 1273.9 611.9 1276.3 647.9 1278.9 606.9 1280.4 588.7 1281.9 582.0 1283.4 613.2 1284.9 641.9 1286.9 595.9 1288.9 586.9 1290.9 607.9 1292.4 630.0 1293.9 647.9 1295.9 679.9 1297.9 687.9 1299.4 701.1 1300.8 711.9 1302.8 748.0 1304.8 699.9 1306.3 691.6 1307.8 687.9 1309.3 685.4 1310.8 675.9 1312.5 668.4 1314.2 657.9 1316.8 675.9 1318.3 681.0 1319.8 691.9 1321.3 709.4 1322.8 699.9 1324.2 697.2 1325.5 687.5 1326.8 685.9 1327.8 665.9 1329.8 703.9 1331.2 710.6 1332.5 717.3 1333.8 725.9 1335.3 732.5 1336.8 739.9 1338.2 736.2 1339.5 761.1 1340.8 775.9 1343.4 766.0 1344.8 779.9 1346.3 784.8 1347.8 777.9 1349.3 756.1 1350.8 747.6 1352.2 733.0 1354.8 691.9 1356.3 668.6 1357.8 633.9 1359.3 650.5 1360.8 656.9 1362.3 677.4 1363.8 679.9 1365.3 677.6 1366.8 695.9 1369.4 703.9 1370.5 700.4 1371.6 684.8 1372.7 681.3 1373.7 676.2 1374.8 640.1 1375.9 584.9 1377.0 505.0 1378.0 584.0 1379.0 593.6 1380.0 586.8 1381.1 578.4 1382.1 626.4 1383.2 581.2 1384.2 594.3 1385.3 621.6 1386.3 621.0 1387.3 641.6 1388.4 640.3 1389.4 635.4 1390.4 641.5 1391.5 664.5 1392.5 672.0 1393.5 663.3 1394.5 676.0 1395.6 648.2 1396.6 678.4 1397.6 678.9 1398.6 663.6 1399.6 708.7 1400.7 700.1 1401.7 690.0 1402.7 696.0 1403.7 689.3 1404.7 796.7 1405.7 703.6 1406.7 673.0 1407.7 685.5 1408.7 664.7 1409.7 674.1 1410.7 680.0 1411.7 651.3 1412.7 615.2 1413.7 624.3 1414.7 586.4 1415.7 561.7 1416.7 519.9 1417.7 517.9 1418.7 490.0 1419.8 524.5 1420.9 583.4 1422.1 577.8 1423.2 636.8 1424.3 664.7 1425.4 714.8 1426.5 738.0 1427.7 791.0 1428.8 727.3 1429.9 751.4 1431.0 707.5 1432.1 726.4 1433.2 745.7 1434.3 714.0 1435.4 703.9 1436.5 726.0 1437.6 683.9 1438.7 660.4 1439.8 662.0 1440.9 719.3 1442.0 687.0 1443.1 700.1 1444.2 720.2 1445.3 702.9 1446.3 724.4 1447.4 714.7 1448.5 686.2 1449.6 704.0 1450.7 668.6 1451.7 691.8 1452.8 697.5 1453.9 714.1 1455.0 693.9 1456.0 675.9 1457.1 672.0 1458.2 666.5 1459.2 629.5 1460.3 625.2 1461.3 660.4 1462.4 636.6 1463.5 659.1 1464.5 628.0 1465.6 636.6 1466.6 638.2 1467.7 602.8 1468.7 588.9 1469.8 586.2 1470.8 612.6 1471.9 622.0 1472.9 635.6 1473.9 618.7 1475.0 637.5 1476.0 669.3 1477.1 682.2 1478.1 694.4 1479.1 694.0 1480.2 670.2 1481.2 685.3 1482.2 694.5 1483.2 695.2 1484.3 737.5 1485.3 685.7 1486.3 698.0 1487.3 699.9 1488.4 713.6 1489.4 679.2 1490.4 696.5 1491.4 700.3 1492.4 707.6 1493.4 706.0 1494.4 722.9 1495.5 672.8 1496.5 699.0 1497.5 681.2 1498.5 718.1 1499.5 714.0 1500.5 708.0 1501.5 675.2 1502.5 686.4 1503.5 619.0 1504.5 604.9 1505.5 588.0 1506.5 583.6 1507.4 540.0 1508.6 550.8 1509.7 583.2 1510.9 647.2 1512.0 795.0 1513.2 739.3 1514.3 735.0 1515.3 720.9 1516.3 729.7 1517.3 719.0 1518.2 688.1 1519.2 703.2 1520.2 695.2 1521.2 684.0 1522.3 654.0 1523.4 692.0 1524.5 646.0 1525.7 657.6 1526.8 721.7 1527.9 682.0 1528.9 672.0 1530.0 656.6 1531.0 601.1 1532.0 523.0 1533.3 684.3 1534.6 708.0 1535.6 714.8 1536.6 678.6 1537.5 565.6 1538.5 374.0 1539.4 583.9 1540.3 674.2 1541.2 684.0 1542.3 688.8 1543.4 700.4 1544.5 720.4 1545.6 711.6 1546.7 742.7 1547.8 751.0 1548.9 806.8 1550.0 753.0 1551.1 726.5 1552.1 723.8 1553.2 725.8 1554.3 706.0 1555.4 720.0 1556.4 714.7 1557.5 714.4 1558.6 729.6 1559.7 739.3 1560.7 738.0 1561.8 729.6 1562.9 730.7 1563.9 755.1 1565.0 694.9 1566.0 772.4 1567.1 748.0 1568.1 747.4 1569.0 830.0 1570.1 810.2 1571.2 786.5 1572.3 794.2 1573.4 792.0 1574.5 799.7 1575.5 846.0 1576.5 811.5 1577.6 799.8 1578.6 808.9 1579.7 798.0 1580.0 835.0 1581.0 782.6 1582.0 747.2 1582.9 719.7 1583.9 712.8 1584.9 706.5 1585.9 700.0 1586.9 698.9 1587.9 659.9 1589.0 727.1 1590.0 703.1 1591.0 685.9 1592.0 682.0 1593.0 694.3 1594.1 656.5 1595.1 650.1 1596.1 633.6 1597.1 652.6 1598.1 656.0 1599.1 648.5 1600.1 677.5 1601.1 619.9 1602.1 646.0 1603.1 640.0 1604.1 664.0 1605.1 695.3 1606.1 673.3 1607.1 695.6 1608.1 691.2 1609.1 687.5 1610.1 673.0 1611.1 642.0 1612.1 629.9 1613.1 664.3 1614.1 618.1 1615.1 653.4 1616.0 622.0 1617.0 619.3 1618.0 608.7 1619.0 651.6 1620.0 646.3 1620.9 604.4 1621.9 624.0 1622.9 600.7 1623.9 625.0 1624.8 613.1 1625.8 644.2 1626.8 647.6 1627.7 626.0 1628.9 625.4 1630.1 685.3 1631.2 636.9 1632.4 624.6 1633.5 656.0 1634.7 637.1 1635.8 588.7 1637.0 623.2 1638.1 646.9 1639.2 624.0 1640.2 608.8 1641.1 598.2 1642.1 555.6 1643.0 492.0 1644.0 628.2 1644.9 662.6 1646.1 687.8 1647.2 668.5 1648.3 616.4 1649.4 678.1 1650.6 655.0 1651.7 675.6 1652.8 624.2 1653.9 677.9 1655.0 718.1 1656.1 673.0 1657.2 671.1 1658.4 687.1 1659.5 697.1 1660.6 661.9 1661.7 683.0 1662.8 655.9 1663.9 700.7 1665.0 699.2 1666.1 672.8 1667.2 666.0 1668.3 682.6 1669.3 662.7 1670.4 663.4 1671.5 655.1 1672.6 662.0 1673.5 652.3 1674.4 638.9 1675.3 675.1 1676.2 619.0" fill="none" stroke="#1A6FDF" stroke-width="1.2" stroke-linejoin="round"/>
<path d="M158.2 739.9L176.2 739.9L167.2 724.5Z" fill="#1A6FDF"/>
<path d="M207.3 608.9L225.3 608.9L216.3 593.5Z" fill="#1A6FDF"/>
<path d="M252.3 725.9L270.3 725.9L261.3 710.5Z" fill="#1A6FDF"/>
<path d="M295.5 616.3L313.5 616.3L304.5 600.9Z" fill="#1A6FDF"/>
<path d="M335.0 578.2L353.0 578.2L344.0 562.8Z" fill="#1A6FDF"/>
<path d="M373.1 654.3L391.1 654.3L382.1 638.9Z" fill="#1A6FDF"/>
<path d="M408.9 638.4L426.9 638.4L417.9 623.0Z" fill="#1A6FDF"/>
<path d="M443.0 705.6L461.0 705.6L452.0 690.2Z" fill="#1A6FDF"/>
<path d="M475.0 593.3L493.0 593.3L484.0 577.9Z" fill="#1A6FDF"/>
<path d="M506.3 631.7L524.3 631.7L515.3 616.3Z" fill="#1A6FDF"/>
<path d="M535.3 684.6L553.3 684.6L544.3 669.2Z" fill="#1A6FDF"/>
<path d="M563.9 698.6L581.9 698.6L572.9 683.2Z" fill="#1A6FDF"/>
<path d="M590.9 761.6L608.9 761.6L599.9 746.2Z" fill="#1A6FDF"/>
<path d="M617.3 711.6L635.3 711.6L626.3 696.2Z" fill="#1A6FDF"/>
<path d="M642.1 660.6L660.1 660.6L651.1 645.2Z" fill="#1A6FDF"/>
<path d="M666.2 708.6L684.2 708.6L675.2 693.2Z" fill="#1A6FDF"/>
<path d="M689.6 729.6L707.6 729.6L698.6 714.2Z" fill="#1A6FDF"/>
<path d="M712.2 751.6L730.2 751.6L721.2 736.2Z" fill="#1A6FDF"/>
<path d="M735.0 700.6L753.0 700.6L744.0 685.2Z" fill="#1A6FDF"/>
<path d="M755.4 654.7L773.4 654.7L764.4 639.3Z" fill="#1A6FDF"/>
<path d="M776.2 674.7L794.2 674.7L785.2 659.3Z" fill="#1A6FDF"/>
<path d="M796.0 687.6L814.0 687.6L805.0 672.2Z" fill="#1A6FDF"/>
<path d="M814.9 693.2L832.9 693.2L823.9 677.8Z" fill="#1A6FDF"/>
<path d="M834.3 778.6L852.3 778.6L843.3 763.2Z" fill="#1A6FDF"/>
<path d="M851.9 742.6L869.9 742.6L860.9 727.2Z" fill="#1A6FDF"/>
<path d="M870.3 679.7L888.3 679.7L879.3 664.3Z" fill="#1A6FDF"/>
<path d="M887.5 736.6L905.5 736.6L896.5 721.2Z" fill="#1A6FDF"/>
<path d="M904.5 726.6L922.5 726.6L913.5 711.2Z" fill="#1A6FDF"/>
<path d="M920.9 741.6L938.9 741.6L929.9 726.2Z" fill="#1A6FDF"/>
<path d="M936.9 797.6L954.9 797.6L945.9 782.2Z" fill="#1A6FDF"/>
<path d="M952.5 732.6L970.5 732.6L961.5 717.2Z" fill="#1A6FDF"/>
<path d="M968.3 702.6L986.3 702.6L977.3 687.2Z" fill="#1A6FDF"/>
<path d="M983.2 780.6L1001.2 780.6L992.2 765.2Z" fill="#1A6FDF"/>
<path d="M998.2 744.6L1016.2 744.6L1007.2 729.2Z" fill="#1A6FDF"/>
<path d="M1012.4 705.6L1030.4 705.6L1021.4 690.2Z" fill="#1A6FDF"/>
<path d="M1026.8 697.6L1044.8 697.6L1035.8 682.2Z" fill="#1A6FDF"/>
<path d="M1040.2 608.7L1058.2 608.7L1049.2 593.3Z" fill="#1A6FDF"/>
<path d="M1054.0 667.6L1072.0 667.6L1063.0 652.2Z" fill="#1A6FDF"/>
<path d="M1067.0 660.6L1085.0 660.6L1076.0 645.2Z" fill="#1A6FDF"/>
<path d="M1081.0 661.6L1099.0 661.6L1090.0 646.2Z" fill="#1A6FDF"/>
<path d="M1093.0 628.6L1111.0 628.6L1102.0 613.2Z" fill="#1A6FDF"/>
<path d="M1105.4 681.6L1123.4 681.6L1114.4 666.2Z" fill="#1A6FDF"/>
<path d="M1118.0 715.6L1136.0 715.6L1127.0 700.2Z" fill="#1A6FDF"/>
<path d="M1129.5 737.6L1147.5 737.6L1138.5 722.2Z" fill="#1A6FDF"/>
<path d="M1141.5 663.6L1159.5 663.6L1150.5 648.2Z" fill="#1A6FDF"/>
<path d="M1153.5 664.6L1171.5 664.6L1162.5 649.2Z" fill="#1A6FDF"/>
<path d="M1164.5 643.6L1182.5 643.6L1173.5 628.2Z" fill="#1A6FDF"/>
<path d="M1176.3 628.6L1194.3 628.6L1185.3 613.2Z" fill="#1A6FDF"/>
<path d="M1187.5 606.6L1205.5 606.6L1196.5 591.2Z" fill="#1A6FDF"/>
<path d="M1197.9 624.6L1215.9 624.6L1206.9 609.2Z" fill="#1A6FDF"/>
<path d="M1208.9 624.6L1226.9 624.6L1217.9 609.2Z" fill="#1A6FDF"/>
<path d="M1219.3 602.6L1237.3 602.6L1228.3 587.2Z" fill="#1A6FDF"/>
<path d="M1229.9 559.7L1247.9 559.7L1238.9 544.3Z" fill="#1A6FDF"/>
<path d="M1240.3 547.7L1258.3 547.7L1249.3 532.3Z" fill="#1A6FDF"/>
<path d="M1249.9 553.7L1267.9 553.7L1258.9 538.3Z" fill="#1A6FDF"/>
<path d="M1259.9 635.6L1277.9 635.6L1268.9 620.2Z" fill="#1A6FDF"/>
<path d="M1269.9 614.6L1287.9 614.6L1278.9 599.2Z" fill="#1A6FDF"/>
<path d="M1279.9 594.6L1297.9 594.6L1288.9 579.2Z" fill="#1A6FDF"/>
<path d="M1288.9 695.6L1306.9 695.6L1297.9 680.2Z" fill="#1A6FDF"/>
<path d="M1298.8 695.6L1316.8 695.6L1307.8 680.2Z" fill="#1A6FDF"/>
<path d="M1307.8 683.6L1325.8 683.6L1316.8 668.2Z" fill="#1A6FDF"/>
<path d="M1317.8 693.6L1335.8 693.6L1326.8 678.2Z" fill="#1A6FDF"/>
<path d="M1324.8 733.6L1342.8 733.6L1333.8 718.2Z" fill="#1A6FDF"/>
<path d="M1334.4 773.7L1352.4 773.7L1343.4 758.3Z" fill="#1A6FDF"/>
<path d="M1343.2 740.7L1361.2 740.7L1352.2 725.3Z" fill="#1A6FDF"/>
<path d="M1351.8 664.6L1369.8 664.6L1360.8 649.2Z" fill="#1A6FDF"/>
<path d="M1360.4 711.6L1378.4 711.6L1369.4 696.2Z" fill="#1A6FDF"/>
<path d="M1369.0 591.7L1387.0 591.7L1378.0 576.3Z" fill="#1A6FDF"/>
<path d="M1377.3 628.7L1395.3 628.7L1386.3 613.3Z" fill="#1A6FDF"/>
<path d="M1385.5 683.7L1403.5 683.7L1394.5 668.3Z" fill="#1A6FDF"/>
<path d="M1393.7 703.7L1411.7 703.7L1402.7 688.3Z" fill="#1A6FDF"/>
<path d="M1401.7 687.7L1419.7 687.7L1410.7 672.3Z" fill="#1A6FDF"/>
<path d="M1409.7 497.7L1427.7 497.7L1418.7 482.3Z" fill="#1A6FDF"/>
<path d="M1417.5 745.7L1435.5 745.7L1426.5 730.3Z" fill="#1A6FDF"/>
<path d="M1425.3 721.7L1443.3 721.7L1434.3 706.3Z" fill="#1A6FDF"/>
<path d="M1433.0 694.7L1451.0 694.7L1442.0 679.3Z" fill="#1A6FDF"/>
<path d="M1440.6 711.7L1458.6 711.7L1449.6 696.3Z" fill="#1A6FDF"/>
<path d="M1448.1 679.7L1466.1 679.7L1457.1 664.3Z" fill="#1A6FDF"/>
<path d="M1455.5 635.7L1473.5 635.7L1464.5 620.3Z" fill="#1A6FDF"/>
<path d="M1462.9 629.7L1480.9 629.7L1471.9 614.3Z" fill="#1A6FDF"/>
<path d="M1470.1 701.7L1488.1 701.7L1479.1 686.3Z" fill="#1A6FDF"/>
<path d="M1477.3 705.7L1495.3 705.7L1486.3 690.3Z" fill="#1A6FDF"/>
<path d="M1484.4 713.7L1502.4 713.7L1493.4 698.3Z" fill="#1A6FDF"/>
<path d="M1491.5 715.7L1509.5 715.7L1500.5 700.3Z" fill="#1A6FDF"/>
<path d="M1498.4 547.7L1516.4 547.7L1507.4 532.3Z" fill="#1A6FDF"/>
<path d="M1505.3 742.7L1523.3 742.7L1514.3 727.3Z" fill="#1A6FDF"/>
<path d="M1512.2 691.7L1530.2 691.7L1521.2 676.3Z" fill="#1A6FDF"/>
<path d="M1518.9 689.7L1536.9 689.7L1527.9 674.3Z" fill="#1A6FDF"/>
<path d="M1525.6 715.7L1543.6 715.7L1534.6 700.3Z" fill="#1A6FDF"/>
<path d="M1532.2 691.7L1550.2 691.7L1541.2 676.3Z" fill="#1A6FDF"/>
<path d="M1538.8 758.7L1556.8 758.7L1547.8 743.3Z" fill="#1A6FDF"/>
<path d="M1545.3 713.7L1563.3 713.7L1554.3 698.3Z" fill="#1A6FDF"/>
<path d="M1551.7 745.7L1569.7 745.7L1560.7 730.3Z" fill="#1A6FDF"/>
<path d="M1558.1 755.7L1576.1 755.7L1567.1 740.3Z" fill="#1A6FDF"/>
<path d="M1564.4 799.7L1582.4 799.7L1573.4 784.3Z" fill="#1A6FDF"/>
<path d="M1570.7 805.7L1588.7 805.7L1579.7 790.3Z" fill="#1A6FDF"/>
<path d="M1576.9 707.7L1594.9 707.7L1585.9 692.3Z" fill="#1A6FDF"/>
<path d="M1583.0 689.7L1601.0 689.7L1592.0 674.3Z" fill="#1A6FDF"/>
<path d="M1589.1 663.7L1607.1 663.7L1598.1 648.3Z" fill="#1A6FDF"/>
<path d="M1595.1 671.7L1613.1 671.7L1604.1 656.3Z" fill="#1A6FDF"/>
<path d="M1601.1 680.7L1619.1 680.7L1610.1 665.3Z" fill="#1A6FDF"/>
<path d="M1607.0 629.7L1625.0 629.7L1616.0 614.3Z" fill="#1A6FDF"/>
<path d="M1612.9 631.7L1630.9 631.7L1621.9 616.3Z" fill="#1A6FDF"/>
<path d="M1618.7 633.7L1636.7 633.7L1627.7 618.3Z" fill="#1A6FDF"/>
<path d="M1624.5 663.7L1642.5 663.7L1633.5 648.3Z" fill="#1A6FDF"/>
<path d="M1630.2 631.7L1648.2 631.7L1639.2 616.3Z" fill="#1A6FDF"/>
<path d="M1635.9 670.3L1653.9 670.3L1644.9 654.9Z" fill="#1A6FDF"/>
<path d="M1641.6 662.7L1659.6 662.7L1650.6 647.3Z" fill="#1A6FDF"/>
<path d="M1647.1 680.7L1665.1 680.7L1656.1 665.3Z" fill="#1A6FDF"/>
<path d="M1652.7 690.7L1670.7 690.7L1661.7 675.3Z" fill="#1A6FDF"/>
<path d="M1658.2 673.7L1676.2 673.7L1667.2 658.3Z" fill="#1A6FDF"/>
<path d="M1663.6 669.7L1681.6 669.7L1672.6 654.3Z" fill="#1A6FDF"/>
</g>
<g clip-path="url(#cp)"><path d="M124.8 627.0 130.3 630.7 135.1 624.1 139.5 632.6 145.1 647.3 150.6 660.2 156.1 667.6 161.7 695.3 167.2 683.5 170.9 706.4 176.4 713.8 180.9 721.2 185.7 695.3 191.2 682.4 196.7 676.9 202.3 636.2 207.8 621.5 216.3 610.4 220.7 608.6 227.4 617.8 233.7 603.0 239.2 586.4 244.7 614.1 250.3 617.8 255.8 641.8 261.3 655.8 266.9 612.3 272.4 568.0 278.0 567.2 283.5 571.7 289.0 580.9 292.7 604.9 298.3 592.0 304.5 558.7 309.3 536.6 313.8 551.3 319.7 597.5 324.8 552.1 329.6 569.8 335.2 606.7 338.9 628.9 344.0 646.6 348.1 625.2 351.8 604.9 355.5 606.7 359.2 636.2 363.6 654.7 366.6 547.7 370.2 481.2 372.8 470.1 375.8 510.7 382.1 549.5 385.0 606.7 388.7 639.9 394.2 636.2 399.8 619.6 405.3 625.2 410.8 651.0 414.5 639.9 417.9 615.2 424.0 636.0 429.0 643.0 433.0 647.9 436.0 656.9 440.0 656.9 444.0 677.9 448.0 681.9 452.0 682.9 456.0 722.9 460.0 703.9 465.0 708.9 469.0 747.9 472.4 780.9 476.6 780.9 480.0 747.9 484.0 708.9 488.0 735.9 492.0 754.9 496.0 737.9 500.0 721.9 503.9 731.9 507.9 717.9 510.9 709.9 515.3 733.9 519.9 736.9 525.9 744.9 529.9 739.9 533.9 743.9 537.9 735.9 544.3 716.9 547.9 687.9 551.9 702.9 555.9 699.9 559.9 689.9 563.9 683.9 567.9 687.9 572.9 724.9 576.9 740.9 579.9 757.9 583.5 777.9 586.9 751.9 589.9 719.9 593.9 711.9 599.9 714.9 602.9 703.9 606.9 690.9 610.9 717.9 612.9 726.9 616.9 679.9 619.9 675.9 622.9 645.9 626.3 662.9 628.9 693.9 631.9 663.9 635.9 645.9 638.9 671.9 642.9 699.9 647.9 701.9 651.1 661.9 655.9 667.9 659.9 678.9 666.9 683.9 671.8 663.9 675.2 655.9 677.8 620.0 680.8 585.0 684.8 585.0 687.8 583.0 691.8 595.0 694.8 620.0 698.6 668.9 700.4 667.6 702.1 666.3 703.8 664.9 705.5 677.4 707.2 689.9 709.8 653.9 711.2 649.3 712.5 644.6 713.8 640.0 715.5 635.3 717.2 630.7 718.8 626.0 721.2 637.0 723.0 636.5 724.8 636.0 726.1 641.9 727.5 647.9 728.8 653.9 730.8 669.9 732.1 673.1 733.5 676.6 734.8 679.9 735.8 701.9 737.2 694.9 738.5 687.9 739.9 680.5 741.3 673.3 742.6 666.3 744.0 659.0 745.5 668.5 747.0 677.9 748.3 673.6 749.7 670.2 751.0 666.0 752.3 673.2 753.7 680.7 755.0 687.9 756.7 689.9 758.3 692.8 760.0 693.9 761.5 686.3 762.9 678.1 764.4 670.0 766.2 663.6 768.0 658.0 769.3 659.0 770.6 659.0 772.0 660.0 773.3 663.8 774.6 666.1 776.0 670.0 777.3 676.6 778.6 683.7 780.0 689.9 781.7 691.9 783.4 694.7 785.2 696.9 786.8 699.4 788.4 702.1 790.0 703.9 791.8 696.7 793.6 689.9 796.0 650.0 798.0 633.0 799.3 634.4 800.6 636.3 802.0 636.0 803.5 639.6 805.0 645.0 806.5 655.0 808.0 666.0 809.5 652.3 811.0 638.0 812.3 637.9 813.6 637.8 815.0 639.0 816.5 643.1 818.0 645.7 819.6 648.0 822.0 640.0 824.3 632.0 826.3 662.0 827.9 709.9 830.3 765.9 831.9 770.4 833.5 772.9 835.9 719.9 837.3 715.0 838.6 708.7 839.9 701.9 841.6 690.8 843.3 680.9 845.9 709.9 847.9 749.9 849.4 727.7 850.9 709.9 852.9 689.9 854.3 693.2 855.6 694.3 856.9 697.9 858.7 696.1 860.5 693.9 862.2 689.0 863.9 682.9 865.3 687.3 866.6 694.0 867.9 699.9 869.3 705.4 870.6 707.6 871.9 709.9 873.3 699.5 874.6 692.5 875.9 683.9 877.4 703.1 878.9 721.9 880.2 727.1 881.6 731.7 882.9 734.9 884.4 718.0 885.9 700.9 887.4 710.3 888.9 719.9 890.4 726.3 891.9 729.9 893.4 719.5 895.0 714.4 896.5 703.9 898.2 707.6 899.9 709.9 901.4 696.9 902.9 684.9 904.9 729.9 906.4 756.2 907.9 783.9 909.9 739.9 911.7 732.5 913.5 723.9 915.2 733.8 916.9 747.9 918.4 727.3 919.9 713.9 921.7 690.2 923.5 665.0 925.2 676.1 926.9 681.9 928.4 687.9 929.9 693.9 932.3 719.9 934.9 685.9 936.4 676.2 937.9 666.0 939.4 678.1 940.9 689.9 942.4 715.3 943.9 743.9 945.9 746.9 947.4 721.4 948.9 693.9 950.4 696.7 951.9 695.9 953.4 692.2 954.9 687.9 956.2 697.2 957.5 700.7 958.9 709.9 960.4 716.1 961.9 720.9 963.2 707.2 964.5 695.4 965.9 683.9 967.4 689.6 968.9 693.9 970.4 677.4 971.9 660.0 973.4 664.9 974.9 666.0 977.3 637.0 979.5 616.0 981.9 640.0 983.4 652.6 984.9 662.0 986.2 652.8 987.5 651.7 988.9 642.0 990.5 633.5 992.2 632.0 994.0 637.9 995.8 644.0 997.6 626.8 999.4 608.0 1001.1 613.9 1002.8 620.0 1004.3 636.3 1005.8 650.0 1006.8 675.9 1008.8 698.9 1010.2 682.8 1011.5 663.9 1012.8 650.0 1014.3 669.1 1015.8 683.9 1017.3 669.9 1018.8 656.0 1021.4 663.0 1023.8 650.0 1025.2 662.2 1026.5 679.5 1027.8 693.9 1029.3 703.9 1030.8 713.9 1032.3 685.9 1033.8 656.0 1035.8 663.0 1037.3 674.8 1038.8 689.9 1040.3 692.4 1041.8 693.9 1043.3 708.9 1044.8 724.9 1046.3 702.1 1047.8 670.0 1049.4 638.0 1051.1 642.9 1052.8 650.0 1055.2 693.9 1057.8 616.0 1060.0 643.9 1061.5 629.8 1063.0 607.9 1064.5 617.7 1066.0 627.9 1067.5 629.4 1069.0 623.9 1070.5 639.2 1072.0 639.9 1074.0 651.9 1076.4 657.9 1079.0 635.9 1080.5 646.7 1082.0 659.9 1083.3 676.4 1084.6 688.9 1086.0 707.9 1087.7 673.5 1089.4 643.9 1092.0 667.9 1093.5 682.0 1095.0 699.9 1097.0 683.9 1099.0 739.9 1100.5 723.7 1102.0 706.9 1103.6 744.9 1105.3 740.6 1107.0 729.9 1108.5 747.1 1110.0 758.0 1112.0 740.0 1114.4 720.0 1117.0 797.9 1118.5 799.6 1120.0 804.9 1122.0 773.9 1124.4 770.0 1127.0 760.0 1128.5 755.5 1130.0 750.0 1132.0 770.0 1134.3 794.9 1136.3 750.0 1138.5 722.0 1140.9 746.0 1143.5 760.0 1145.2 744.1 1146.9 740.0 1148.7 733.3 1150.5 722.0 1152.9 750.0 1155.3 769.0 1157.9 754.0 1159.3 741.0 1160.6 725.5 1161.9 718.0 1163.4 715.9 1164.9 719.9 1166.4 702.3 1167.9 679.9 1169.4 691.3 1170.9 701.9 1173.5 714.9 1175.9 703.9 1177.4 710.7 1178.9 711.9 1180.4 697.9 1181.9 687.9 1183.4 687.1 1184.9 684.9 1186.9 727.9 1188.4 712.8 1189.9 699.9 1191.4 675.0 1192.9 663.9 1194.2 671.5 1195.6 679.9 1196.9 688.9 1198.4 706.3 1199.9 730.0 1201.9 753.0 1203.9 720.0 1205.5 659.9 1207.3 575.0 1208.9 553.0 1209.9 639.9 1210.9 750.0 1212.3 810.9 1213.9 750.0 1215.4 728.7 1216.9 699.9 1218.3 670.9 1220.9 697.9 1222.4 699.4 1223.9 679.9 1225.4 682.9 1226.9 671.9 1228.9 661.9 1230.9 651.9 1232.4 663.1 1233.9 673.9 1235.9 703.9 1237.4 684.0 1238.9 675.9 1240.9 720.0 1243.5 749.0 1245.9 730.0 1247.4 717.5 1248.9 707.0 1250.9 739.0 1252.4 721.1 1253.9 709.9 1255.4 695.7 1256.9 679.9 1258.9 670.9 1260.9 699.9 1262.4 698.3 1263.9 683.9 1265.4 696.6 1266.9 709.9 1269.3 721.9 1270.9 675.9 1271.9 655.9 1273.4 670.1 1274.9 699.9 1276.2 701.4 1277.5 688.2 1278.9 681.9 1280.4 694.5 1281.9 691.9 1283.9 667.9 1285.4 680.9 1286.9 703.9 1288.9 653.9 1290.9 679.9 1292.4 708.2 1293.9 707.9 1295.2 698.1 1296.5 703.3 1297.9 699.9 1299.4 717.6 1300.8 725.9 1302.3 697.7 1303.8 699.9 1305.2 693.5 1306.5 687.1 1307.8 694.9 1309.3 697.6 1310.8 679.9 1312.8 663.9 1314.8 709.9 1316.8 720.9 1318.3 714.6 1319.8 699.9 1321.3 704.0 1322.8 719.9 1324.2 707.2 1325.5 705.1 1326.8 713.9 1328.3 707.9 1329.8 699.9 1331.8 739.9 1333.3 727.3 1334.8 724.9 1336.3 719.7 1337.8 709.9 1339.3 711.5 1340.8 719.9 1343.4 687.9 1345.8 719.9 1347.3 723.9 1348.8 749.9 1350.5 751.6 1352.2 729.9 1354.8 739.9 1356.3 731.1 1357.8 715.9 1359.3 713.8 1360.8 720.9 1362.3 728.1 1363.8 739.9 1365.3 743.6 1366.8 729.9 1369.4 747.9 1370.5 756.2 1371.6 737.1 1372.7 727.8 1373.7 698.3 1374.8 671.8 1375.9 636.8 1377.0 552.0 1378.0 622.0 1379.0 649.6 1380.0 658.0 1381.1 684.6 1382.1 715.1 1383.2 736.6 1384.2 708.7 1385.3 714.0 1386.3 756.0 1387.4 772.3 1388.6 765.7 1389.7 780.6 1390.9 779.2 1392.0 817.0 1393.3 766.8 1394.5 754.0 1395.6 747.9 1396.6 734.3 1397.6 736.9 1398.6 762.8 1399.6 755.4 1400.7 743.2 1401.7 701.4 1402.7 719.0 1403.7 713.5 1404.7 712.1 1405.7 769.7 1406.7 712.4 1407.7 738.9 1408.7 755.7 1409.7 731.3 1410.7 763.0 1411.8 758.5 1412.8 775.5 1413.9 745.2 1414.9 785.3 1416.0 801.1 1417.0 817.0 1417.8 602.0 1418.7 570.0 1419.8 586.5 1420.9 620.2 1422.1 640.3 1423.2 660.8 1424.3 664.6 1425.4 707.4 1426.5 736.0 1427.6 733.9 1428.7 728.0 1429.8 721.5 1430.8 690.9 1431.9 653.9 1433.0 606.0 1434.3 705.0 1435.4 685.3 1436.5 676.9 1437.6 721.0 1438.7 712.6 1439.8 701.1 1440.9 695.6 1442.0 699.0 1443.1 705.9 1444.2 722.1 1445.3 716.9 1446.3 798.5 1447.4 721.3 1448.5 699.0 1449.6 729.0 1450.7 721.2 1451.7 720.0 1452.8 756.2 1453.9 751.3 1455.0 718.6 1456.0 717.7 1457.1 714.0 1458.2 701.9 1459.2 727.2 1460.3 685.8 1461.3 715.5 1462.4 720.1 1463.5 693.5 1464.5 678.0 1465.6 693.0 1466.6 712.1 1467.7 654.4 1468.7 687.8 1469.8 676.3 1470.8 690.7 1471.9 677.0 1472.9 658.4 1473.9 709.3 1475.0 667.9 1476.0 708.2 1477.1 659.2 1478.1 679.3 1479.1 668.0 1480.2 671.9 1481.2 681.8 1482.2 705.4 1483.2 654.8 1484.3 707.8 1485.3 732.2 1486.3 710.0 1487.3 715.6 1488.4 678.8 1489.4 706.8 1490.4 722.7 1491.4 746.0 1492.4 716.7 1493.4 716.0 1494.4 693.0 1495.5 737.5 1496.5 720.0 1497.5 733.4 1498.5 718.9 1499.5 731.6 1500.5 714.0 1501.5 699.6 1502.5 687.5 1503.5 720.2 1504.5 598.3 1505.5 593.1 1506.5 606.3 1507.4 566.0 1508.4 565.8 1509.4 592.7 1510.4 622.6 1511.4 643.1 1512.4 629.6 1513.4 667.3 1514.3 700.0 1515.3 692.5 1516.3 721.6 1517.3 741.5 1518.2 720.1 1519.2 687.3 1520.2 734.2 1521.2 728.0 1522.3 729.6 1523.4 725.8 1524.5 725.4 1525.7 727.7 1526.8 751.8 1527.9 713.0 1529.0 740.7 1530.2 719.0 1531.3 699.7 1532.4 746.0 1533.5 743.3 1534.6 736.0 1535.6 731.5 1536.6 698.9 1537.5 624.0 1538.5 450.0 1539.4 627.5 1540.3 688.6 1541.2 696.0 1542.3 722.3 1543.4 704.3 1544.5 681.4 1545.6 721.9 1546.7 705.2 1547.8 714.0 1548.9 738.6 1550.0 704.0 1551.1 686.9 1552.1 650.8 1553.2 679.9 1554.3 676.0 1555.4 686.8 1556.4 699.1 1557.5 723.8 1558.6 717.0 1559.7 741.3 1560.7 730.0 1561.8 718.7 1562.9 704.9 1563.9 727.0 1565.0 711.8 1566.0 696.9 1567.1 700.0 1568.2 722.2 1569.2 693.2 1570.3 707.7 1571.3 748.4 1572.4 644.2 1573.4 686.0 1574.5 684.3 1575.5 701.0 1576.6 668.1 1577.6 687.2 1578.6 699.2 1579.7 703.0 1580.7 674.6 1581.7 685.9 1582.8 723.9 1583.8 672.9 1584.8 691.7 1585.9 694.0 1586.9 694.4 1587.9 708.7 1589.0 691.0 1590.0 667.5 1591.0 673.8 1592.0 668.0 1593.0 678.2 1594.1 616.3 1595.1 660.9 1596.1 692.1 1597.1 661.4 1598.1 670.0 1599.1 666.8 1600.1 685.5 1601.1 683.5 1602.1 696.6 1603.1 704.0 1604.1 704.0 1605.1 714.4 1606.1 674.8 1607.1 707.2 1608.1 681.2 1609.1 671.2 1610.1 665.0 1611.1 697.6 1612.1 693.0 1613.1 719.8 1614.1 757.3 1615.1 728.2 1616.0 740.0 1617.0 740.5 1618.0 737.5 1619.0 781.8 1620.0 811.0 1621.0 781.6 1621.9 778.0 1622.9 751.9 1623.9 731.9 1624.8 798.9 1625.8 734.6 1626.8 735.2 1627.7 732.0 1628.9 736.5 1630.1 698.4 1631.2 713.8 1632.4 760.0 1633.5 722.0 1634.7 744.3 1635.8 696.2 1637.0 717.0 1638.1 676.4 1639.2 720.0 1640.4 771.1 1641.5 758.1 1642.7 742.6 1643.8 787.9 1644.9 774.0 1646.1 760.9 1647.2 759.5 1648.3 761.3 1649.4 753.0 1650.6 740.0 1651.7 711.0 1652.8 728.9 1653.9 737.3 1655.0 664.6 1656.1 713.0 1657.2 720.5 1658.4 702.7 1659.5 731.5 1660.6 736.8 1661.7 725.0 1662.8 734.9 1663.9 751.6 1665.0 736.0 1666.1 766.4 1667.2 768.0 1668.3 774.9 1669.3 767.6 1670.4 730.6 1671.5 764.2 1672.6 762.0 1673.6 754.8 1674.5 766.4 1675.5 803.0 1676.4 780.8 1677.3 786.8 1678.2 820.0 1679.1 789.4" fill="none" stroke="#37AD6B" stroke-width="1.2" stroke-linejoin="round"/>
<path d="M158.2 675.8L176.2 675.8L167.2 691.2Z" fill="#37AD6B"/>
<path d="M207.3 602.7L225.3 602.7L216.3 618.1Z" fill="#37AD6B"/>
<path d="M252.3 648.1L270.3 648.1L261.3 663.5Z" fill="#37AD6B"/>
<path d="M295.5 551.0L313.5 551.0L304.5 566.4Z" fill="#37AD6B"/>
<path d="M335.0 638.9L353.0 638.9L344.0 654.3Z" fill="#37AD6B"/>
<path d="M373.1 541.8L391.1 541.8L382.1 557.2Z" fill="#37AD6B"/>
<path d="M408.9 607.5L426.9 607.5L417.9 622.9Z" fill="#37AD6B"/>
<path d="M443.0 675.2L461.0 675.2L452.0 690.6Z" fill="#37AD6B"/>
<path d="M475.0 701.2L493.0 701.2L484.0 716.6Z" fill="#37AD6B"/>
<path d="M506.3 726.2L524.3 726.2L515.3 741.6Z" fill="#37AD6B"/>
<path d="M535.3 709.2L553.3 709.2L544.3 724.6Z" fill="#37AD6B"/>
<path d="M563.9 717.2L581.9 717.2L572.9 732.6Z" fill="#37AD6B"/>
<path d="M590.9 707.2L608.9 707.2L599.9 722.6Z" fill="#37AD6B"/>
<path d="M617.3 655.2L635.3 655.2L626.3 670.6Z" fill="#37AD6B"/>
<path d="M642.1 654.2L660.1 654.2L651.1 669.6Z" fill="#37AD6B"/>
<path d="M666.2 648.2L684.2 648.2L675.2 663.6Z" fill="#37AD6B"/>
<path d="M689.6 661.2L707.6 661.2L698.6 676.6Z" fill="#37AD6B"/>
<path d="M712.2 629.3L730.2 629.3L721.2 644.7Z" fill="#37AD6B"/>
<path d="M735.0 651.3L753.0 651.3L744.0 666.7Z" fill="#37AD6B"/>
<path d="M755.4 662.3L773.4 662.3L764.4 677.7Z" fill="#37AD6B"/>
<path d="M776.2 689.2L794.2 689.2L785.2 704.6Z" fill="#37AD6B"/>
<path d="M796.0 637.3L814.0 637.3L805.0 652.7Z" fill="#37AD6B"/>
<path d="M815.3 624.3L833.3 624.3L824.3 639.7Z" fill="#37AD6B"/>
<path d="M834.3 673.2L852.3 673.2L843.3 688.6Z" fill="#37AD6B"/>
<path d="M851.5 686.2L869.5 686.2L860.5 701.6Z" fill="#37AD6B"/>
<path d="M869.9 714.2L887.9 714.2L878.9 729.6Z" fill="#37AD6B"/>
<path d="M887.5 696.2L905.5 696.2L896.5 711.6Z" fill="#37AD6B"/>
<path d="M904.5 716.2L922.5 716.2L913.5 731.6Z" fill="#37AD6B"/>
<path d="M920.9 686.2L938.9 686.2L929.9 701.6Z" fill="#37AD6B"/>
<path d="M936.9 739.2L954.9 739.2L945.9 754.6Z" fill="#37AD6B"/>
<path d="M952.9 713.2L970.9 713.2L961.9 728.6Z" fill="#37AD6B"/>
<path d="M968.3 629.3L986.3 629.3L977.3 644.7Z" fill="#37AD6B"/>
<path d="M983.2 624.3L1001.2 624.3L992.2 639.7Z" fill="#37AD6B"/>
<path d="M997.8 668.2L1015.8 668.2L1006.8 683.6Z" fill="#37AD6B"/>
<path d="M1012.4 655.3L1030.4 655.3L1021.4 670.7Z" fill="#37AD6B"/>
<path d="M1026.8 655.3L1044.8 655.3L1035.8 670.7Z" fill="#37AD6B"/>
<path d="M1040.4 630.3L1058.4 630.3L1049.4 645.7Z" fill="#37AD6B"/>
<path d="M1054.0 600.2L1072.0 600.2L1063.0 615.6Z" fill="#37AD6B"/>
<path d="M1067.4 650.2L1085.4 650.2L1076.4 665.6Z" fill="#37AD6B"/>
<path d="M1080.4 636.2L1098.4 636.2L1089.4 651.6Z" fill="#37AD6B"/>
<path d="M1093.0 699.2L1111.0 699.2L1102.0 714.6Z" fill="#37AD6B"/>
<path d="M1105.4 712.3L1123.4 712.3L1114.4 727.7Z" fill="#37AD6B"/>
<path d="M1118.0 752.3L1136.0 752.3L1127.0 767.7Z" fill="#37AD6B"/>
<path d="M1129.5 714.3L1147.5 714.3L1138.5 729.7Z" fill="#37AD6B"/>
<path d="M1141.5 714.3L1159.5 714.3L1150.5 729.7Z" fill="#37AD6B"/>
<path d="M1152.9 710.3L1170.9 710.3L1161.9 725.7Z" fill="#37AD6B"/>
<path d="M1164.5 707.2L1182.5 707.2L1173.5 722.6Z" fill="#37AD6B"/>
<path d="M1175.9 677.2L1193.9 677.2L1184.9 692.6Z" fill="#37AD6B"/>
<path d="M1187.9 681.2L1205.9 681.2L1196.9 696.6Z" fill="#37AD6B"/>
<path d="M1198.3 567.3L1216.3 567.3L1207.3 582.7Z" fill="#37AD6B"/>
<path d="M1209.3 663.2L1227.3 663.2L1218.3 678.6Z" fill="#37AD6B"/>
<path d="M1219.9 654.2L1237.9 654.2L1228.9 669.6Z" fill="#37AD6B"/>
<path d="M1229.9 668.2L1247.9 668.2L1238.9 683.6Z" fill="#37AD6B"/>
<path d="M1239.9 699.3L1257.9 699.3L1248.9 714.7Z" fill="#37AD6B"/>
<path d="M1249.9 663.2L1267.9 663.2L1258.9 678.6Z" fill="#37AD6B"/>
<path d="M1260.3 714.2L1278.3 714.2L1269.3 729.6Z" fill="#37AD6B"/>
<path d="M1269.9 674.2L1287.9 674.2L1278.9 689.6Z" fill="#37AD6B"/>
<path d="M1279.9 646.2L1297.9 646.2L1288.9 661.6Z" fill="#37AD6B"/>
<path d="M1288.9 692.2L1306.9 692.2L1297.9 707.6Z" fill="#37AD6B"/>
<path d="M1298.8 687.2L1316.8 687.2L1307.8 702.6Z" fill="#37AD6B"/>
<path d="M1307.8 713.2L1325.8 713.2L1316.8 728.6Z" fill="#37AD6B"/>
<path d="M1317.8 706.2L1335.8 706.2L1326.8 721.6Z" fill="#37AD6B"/>
<path d="M1325.8 717.2L1343.8 717.2L1334.8 732.6Z" fill="#37AD6B"/>
<path d="M1334.4 680.2L1352.4 680.2L1343.4 695.6Z" fill="#37AD6B"/>
<path d="M1343.2 722.2L1361.2 722.2L1352.2 737.6Z" fill="#37AD6B"/>
<path d="M1351.8 713.2L1369.8 713.2L1360.8 728.6Z" fill="#37AD6B"/>
<path d="M1360.4 740.2L1378.4 740.2L1369.4 755.6Z" fill="#37AD6B"/>
<path d="M1369.0 614.3L1387.0 614.3L1378.0 629.7Z" fill="#37AD6B"/>
<path d="M1377.3 748.3L1395.3 748.3L1386.3 763.7Z" fill="#37AD6B"/>
<path d="M1385.5 746.3L1403.5 746.3L1394.5 761.7Z" fill="#37AD6B"/>
<path d="M1393.7 711.3L1411.7 711.3L1402.7 726.7Z" fill="#37AD6B"/>
<path d="M1401.7 755.3L1419.7 755.3L1410.7 770.7Z" fill="#37AD6B"/>
<path d="M1409.7 562.3L1427.7 562.3L1418.7 577.7Z" fill="#37AD6B"/>
<path d="M1417.5 728.3L1435.5 728.3L1426.5 743.7Z" fill="#37AD6B"/>
<path d="M1425.3 697.3L1443.3 697.3L1434.3 712.7Z" fill="#37AD6B"/>
<path d="M1433.0 691.3L1451.0 691.3L1442.0 706.7Z" fill="#37AD6B"/>
<path d="M1440.6 721.3L1458.6 721.3L1449.6 736.7Z" fill="#37AD6B"/>
<path d="M1448.1 706.3L1466.1 706.3L1457.1 721.7Z" fill="#37AD6B"/>
<path d="M1455.5 670.3L1473.5 670.3L1464.5 685.7Z" fill="#37AD6B"/>
<path d="M1462.9 669.3L1480.9 669.3L1471.9 684.7Z" fill="#37AD6B"/>
<path d="M1470.1 660.3L1488.1 660.3L1479.1 675.7Z" fill="#37AD6B"/>
<path d="M1477.3 702.3L1495.3 702.3L1486.3 717.7Z" fill="#37AD6B"/>
<path d="M1484.4 708.3L1502.4 708.3L1493.4 723.7Z" fill="#37AD6B"/>
<path d="M1491.5 706.3L1509.5 706.3L1500.5 721.7Z" fill="#37AD6B"/>
<path d="M1498.4 558.3L1516.4 558.3L1507.4 573.7Z" fill="#37AD6B"/>
<path d="M1505.3 692.3L1523.3 692.3L1514.3 707.7Z" fill="#37AD6B"/>
<path d="M1512.2 720.3L1530.2 720.3L1521.2 735.7Z" fill="#37AD6B"/>
<path d="M1518.9 705.3L1536.9 705.3L1527.9 720.7Z" fill="#37AD6B"/>
<path d="M1525.6 728.3L1543.6 728.3L1534.6 743.7Z" fill="#37AD6B"/>
<path d="M1532.2 688.3L1550.2 688.3L1541.2 703.7Z" fill="#37AD6B"/>
<path d="M1538.8 706.3L1556.8 706.3L1547.8 721.7Z" fill="#37AD6B"/>
<path d="M1545.3 668.3L1563.3 668.3L1554.3 683.7Z" fill="#37AD6B"/>
<path d="M1551.7 722.3L1569.7 722.3L1560.7 737.7Z" fill="#37AD6B"/>
<path d="M1558.1 692.3L1576.1 692.3L1567.1 707.7Z" fill="#37AD6B"/>
<path d="M1564.4 678.3L1582.4 678.3L1573.4 693.7Z" fill="#37AD6B"/>
<path d="M1570.7 695.3L1588.7 695.3L1579.7 710.7Z" fill="#37AD6B"/>
<path d="M1576.9 686.3L1594.9 686.3L1585.9 701.7Z" fill="#37AD6B"/>
<path d="M1583.0 660.3L1601.0 660.3L1592.0 675.7Z" fill="#37AD6B"/>
<path d="M1589.1 662.3L1607.1 662.3L1598.1 677.7Z" fill="#37AD6B"/>
<path d="M1595.1 696.3L1613.1 696.3L1604.1 711.7Z" fill="#37AD6B"/>
<path d="M1601.1 657.3L1619.1 657.3L1610.1 672.7Z" fill="#37AD6B"/>
<path d="M1607.0 732.3L1625.0 732.3L1616.0 747.7Z" fill="#37AD6B"/>
<path d="M1612.9 770.3L1630.9 770.3L1621.9 785.7Z" fill="#37AD6B"/>
<path d="M1618.7 724.3L1636.7 724.3L1627.7 739.7Z" fill="#37AD6B"/>
<path d="M1624.5 714.3L1642.5 714.3L1633.5 729.7Z" fill="#37AD6B"/>
<path d="M1630.2 712.3L1648.2 712.3L1639.2 727.7Z" fill="#37AD6B"/>
<path d="M1635.9 766.3L1653.9 766.3L1644.9 781.7Z" fill="#37AD6B"/>
<path d="M1641.6 732.3L1659.6 732.3L1650.6 747.7Z" fill="#37AD6B"/>
<path d="M1647.1 705.3L1665.1 705.3L1656.1 720.7Z" fill="#37AD6B"/>
<path d="M1652.7 717.3L1670.7 717.3L1661.7 732.7Z" fill="#37AD6B"/>
<path d="M1658.2 760.3L1676.2 760.3L1667.2 775.7Z" fill="#37AD6B"/>
<path d="M1663.6 754.3L1681.6 754.3L1672.6 769.7Z" fill="#37AD6B"/>
</g>
<g stroke="#000" stroke-width="4" fill="none">
<path d="M122 1189V20"/>
<path d="M100 1187H1660"/>
<path d="M100 847.8H122"/>
<path d="M100 508.6H122"/>
<path d="M100 169.4H122"/>
<path d="M111 1017.4H122"/>
<path d="M111 678.2H122"/>
<path d="M111 339.0H122"/>
<path d="M193.1 1187V1198"/>
<path d="M316.2 1187V1198"/>
<path d="M420.2 1187V1198"/>
<path d="M510.3 1187V1198"/>
<path d="M589.8 1187V1209"/>
<path d="M660.9 1187V1198"/>
<path d="M725.2 1187V1198"/>
<path d="M784.0 1187V1198"/>
<path d="M838.0 1187V1198"/>
<path d="M888.0 1187V1198"/>
<path d="M934.6 1187V1198"/>
<path d="M978.1 1187V1198"/>
<path d="M1019.0 1187V1198"/>
<path d="M1057.6 1187V1209"/>
<path d="M1094.1 1187V1198"/>
<path d="M1128.7 1187V1198"/>
<path d="M1161.6 1187V1198"/>
<path d="M1193.0 1187V1198"/>
<path d="M1223.0 1187V1198"/>
<path d="M1251.8 1187V1198"/>
<path d="M1279.3 1187V1198"/>
<path d="M1305.8 1187V1198"/>
<path d="M1331.2 1187V1209"/>
<path d="M1355.8 1187V1198"/>
<path d="M1379.5 1187V1198"/>
<path d="M1402.4 1187V1198"/>
<path d="M1424.5 1187V1198"/>
<path d="M1445.9 1187V1198"/>
<path d="M1466.7 1187V1198"/>
<path d="M1486.8 1187V1198"/>
<path d="M1506.4 1187V1198"/>
<path d="M1525.4 1187V1209"/>
<path d="M1543.9 1187V1198"/>
<path d="M1561.9 1187V1198"/>
<path d="M1579.4 1187V1198"/>
<path d="M1596.5 1187V1198"/>
<path d="M1613.2 1187V1198"/>
<path d="M1629.4 1187V1198"/>
<path d="M1645.3 1187V1198"/>
<path d="M1660.8 1187V1198"/>
</g>
<path d="M122 -3L111.6 28.6L122 21.8L132.4 28.6Z" fill="#000" stroke="#000" stroke-width="2" stroke-linejoin="round"/>
<path d="M1677.6 1187L1656.2 1176.6L1660.5 1187L1656.2 1197.4Z" fill="#000" stroke="#000" stroke-width="2" stroke-linejoin="round"/>
<g fill="#000">
<text transform="translate(85.5 1199.2) scale(1 1.03)" text-anchor="end" font-size="41.3">0</text>
<text transform="translate(85.5 860.0) scale(1 1.03)" text-anchor="end" font-size="41.3">20</text>
<text transform="translate(85.5 520.8) scale(1 1.03)" text-anchor="end" font-size="41.3">40</text>
<text transform="translate(85.5 181.6) scale(1 1.03)" text-anchor="end" font-size="41.3">60</text>
<text transform="translate(589.8 1255.8) scale(1 1.03)" text-anchor="middle" font-size="40.8">200</text>
<text transform="translate(1057.6 1255.8) scale(1 1.03)" text-anchor="middle" font-size="40.8">400</text>
<text transform="translate(1331.2 1255.8) scale(1 1.03)" text-anchor="middle" font-size="40.8">600</text>
<text transform="translate(1525.4 1255.8) scale(1 1.03)" text-anchor="middle" font-size="40.8">800</text>
<text transform="translate(1675.5 1255.8) scale(1 1.03)" text-anchor="middle" font-size="40.8">1000</text>
<text transform="translate(899.2 1292.0) scale(1 1.03)" text-anchor="middle" font-size="40.9">Frenquecy(Hz)</text>
<text transform="translate(28.7 597.5) scale(1 1.03) rotate(-90)" text-anchor="middle" font-size="40.8">Noise in Copit(dB(A))</text>
</g>
<rect x="1314.5" y="32.5" width="362" height="207.5" fill="#fff" stroke="#3c3c3c" stroke-width="1.3"/>
<path d="M1319.6 60.7H1412.5" stroke="#515151" stroke-width="1.25"/>
<rect x="1359.1" y="53.8" width="14.2" height="14.2" fill="#515151"/>
<text transform="translate(1422.8 75.2) scale(1 1.03)" font-size="40.5" fill="#000">2.5mm-Pilot</text>
<path d="M1319.6 111.1H1412.5" stroke="#F14040" stroke-width="1.25"/>
<circle cx="1366.2" cy="111.3" r="7.6" fill="#F14040"/>
<text transform="translate(1422.8 125.6) scale(1 1.03)" font-size="40.5" fill="#000">2.5mm-Copilot</text>
<path d="M1319.6 161.6H1412.5" stroke="#1A6FDF" stroke-width="1.25"/>
<path d="M1357.2 167.2L1375.2 167.2L1366.2 151.8Z" fill="#1A6FDF"/>
<text transform="translate(1422.8 176.1) scale(1 1.03)" font-size="40.5" fill="#000">1.8mm-Pilot</text>
<path d="M1319.6 212.1H1412.5" stroke="#37AD6B" stroke-width="1.25"/>
<path d="M1357.2 206.9L1375.2 206.9L1366.2 222.3Z" fill="#37AD6B"/>
<text transform="translate(1422.8 226.6) scale(1 1.03)" font-size="40.5" fill="#000">1.8mm-Copilot</text>
</svg>
</body></html>
